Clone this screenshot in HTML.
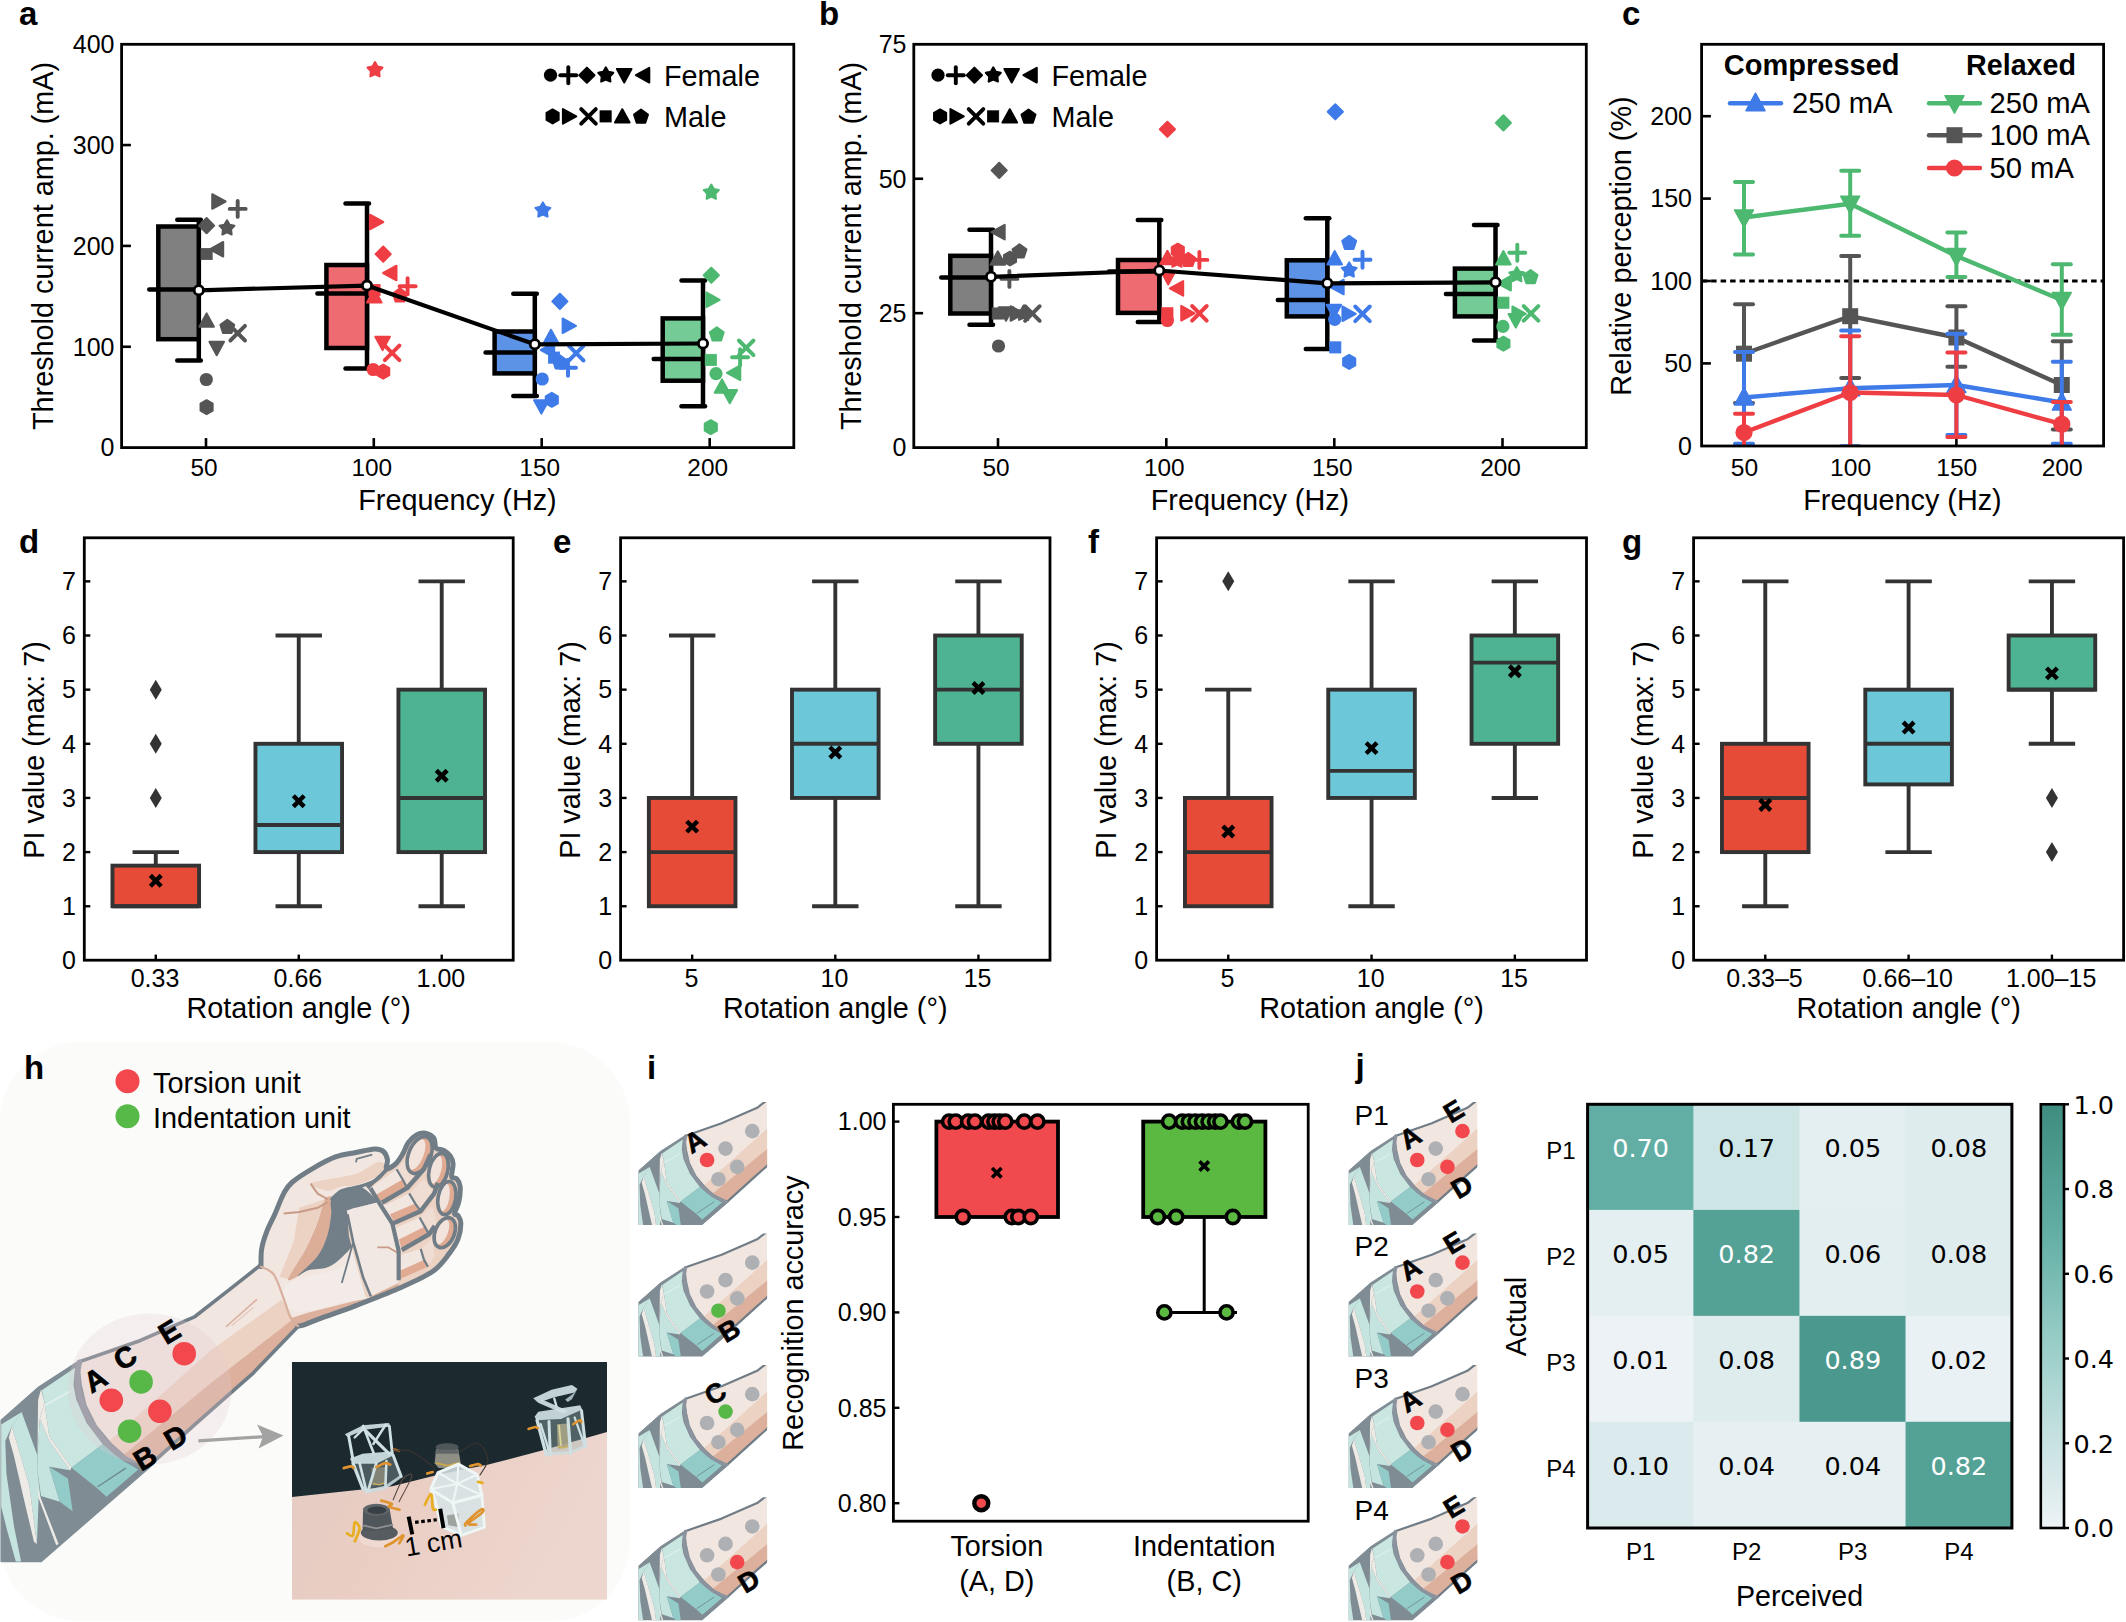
<!DOCTYPE html><html><head><meta charset="utf-8"><title>Figure</title><style>html,body{margin:0;padding:0;background:#fff}svg{display:block}</style></head><body><svg width="2126" height="1622" viewBox="0 0 2126 1622" font-family='"Liberation Sans", Arial, Helvetica, sans-serif'><defs><g id="armfore"><polygon points="77.54,1362.41 137.65,1341.53 195,1316.53 229.41,1289.69 261.53,1264.22 298.23,1326.16 252.35,1373.88 195,1424.35 146.82,1467.94 128.47,1479.41 118.34,1473.14 82.84,1443.55 63.61,1399.17" fill="#f2e6e1"/><polygon points="112.1,1438.5 210.7,1350.4 286.8,1295.9 298.23,1326.16 252.35,1373.88 195,1424.35 146.82,1467.94 128.47,1479.41 118.34,1473.14 94.67,1452.43" fill="#ecd2c3"/><polygon points="127.1,1451.9 210.7,1383.3 293.6,1318.8 298.23,1326.16 252.35,1373.88 195,1424.35 146.82,1467.94 128.47,1479.41 118.34,1473.14 109.47,1464.26" fill="#dcb09c"/><line x1="225.97" y1="1326.85" x2="256.94" y2="1299.32" stroke="#dbb3a3" stroke-width="1.6"/><line x1="231.7" y1="1325.71" x2="253.5" y2="1307.35" stroke="#e6c6b8" stroke-width="1.2"/><polyline points="77.54,1362.41 137.65,1341.53 195,1316.53 229.41,1289.69 261.53,1264.22" fill="none" stroke="#717d86" stroke-width="3.6" stroke-linejoin="round"/><polyline points="298.23,1326.16 252.35,1373.88 195,1424.35 146.82,1467.94" fill="none" stroke="#717d86" stroke-width="3.6" stroke-linejoin="round"/><polygon points="78.4,1361.45 38.76,1387.04 1.17,1420.42 1.17,1561.58 41,1561.58 149.41,1467.51 142.01,1465.74 125.74,1456.86 110.95,1443.55 96.15,1425.8 85.8,1405.09 81.07,1384.38" fill="#7f8c94" stroke="#7f8c94" stroke-width="1.5" stroke-linejoin="round"/><polygon points="1.17,1424.52 22.26,1411.63 11.72,1426.86 5.27,1440.92 6.44,1473.72 14.06,1526.44 21.09,1561.58 15.82,1561.58 7.03,1529.95 1.17,1506.52" fill="#c5e4df"/><polygon points="11.72,1426.86 21.67,1412.22 37.25,1454.98 37.25,1469.03 40.42,1497.15 38.66,1498.32 36.9,1544.01 29.29,1485.44 17.57,1445.6" fill="#c5e4df"/><polygon points="8.79,1437.4 11.72,1426.86 17.57,1445.6 29.29,1485.44 36.9,1544.01 33.97,1541.67 23.43,1497.15 14.06,1456.15" fill="#eeeae5"/><polygon points="38.07,1399.92 41,1389.37 44.52,1402.26 39.83,1418.66 37.49,1454.98" fill="#eeeae5"/><polygon points="39.83,1418.66 49.2,1440.92 70.29,1470.21 49.2,1466.69 59.75,1501.84 41,1495.98 37.25,1469.03 37.49,1454.98" fill="#c5e4df"/><polygon points="49.2,1466.69 67.95,1478.41 72.63,1511.21 59.75,1501.84" fill="#93cbc8"/><polygon points="37.25,1485.44 40.42,1497.15 58.58,1544.01 56.23,1545.18 38.66,1498.32" fill="#eeeae5"/><polygon points="44.52,1402.26 41.71,1390.31 75,1367.81 73.52,1384.38 76.18,1399.17 86.54,1422.84 102.81,1444.29 71.46,1467.86 49.2,1436.23" fill="#c9e6e1"/><polygon points="39.83,1418.66 44.52,1402.26 49.2,1436.23 71.46,1467.86 70.29,1470.21 49.2,1440.92" fill="#eeeae5"/><polygon points="71.46,1467.86 102.81,1444.29 120.56,1459.08 138.31,1469.44 106.51,1496.8 96.89,1487.93" fill="#93cbc8"/><line x1="97.63" y1="1486.75" x2="125.74" y2="1468.11" stroke="#6f8a90" stroke-width="1.4"/><line x1="45.1" y1="1405.19" x2="70.29" y2="1391.13" stroke="#e4f1ee" stroke-width="1.6"/><path d="M79.59 1362.19C79.19 1364.9 77.05 1372.3 77.22 1378.46C77.39 1384.63 78.33 1391.78 80.62 1399.17C82.91 1406.57 86.66 1415.44 90.98 1422.84C95.29 1430.24 100.96 1437.63 106.51 1443.55C112.06 1449.47 117.97 1454.35 124.26 1458.34C130.55 1462.34 140.9 1465.99 144.23 1467.51" fill="none" stroke="#8b949e" stroke-width="5.2" stroke-linejoin="round" stroke-linecap="round"/></g><g id="armfull"><use href="#armfore"/><path d="M260.97 1266.6C261.09 1263.64 260.73 1254.66 261.68 1248.87C262.62 1243.08 264.39 1237.77 266.64 1231.86C268.88 1225.95 272.31 1219.81 275.15 1213.43C277.98 1207.05 280.82 1198.78 283.65 1193.58C286.49 1188.38 287.2 1186.49 292.16 1182.23C297.12 1177.98 306.1 1172.31 313.43 1168.06C320.75 1163.8 329.02 1159.31 336.11 1156.71C343.2 1154.11 349.58 1153.76 355.96 1152.46C362.34 1151.16 369.9 1149.15 374.39 1148.92C378.88 1148.68 380.73 1149.27 382.9 1151.04C385.07 1152.81 386.85 1156.6 387.44 1159.55C388.03 1162.5 385.07 1168.06 386.45 1168.77C387.82 1169.47 392.94 1166.28 395.66 1163.8C398.38 1161.32 400.62 1157.42 402.75 1153.88C404.88 1150.33 406.06 1145.73 408.42 1142.54C410.79 1139.34 414.09 1136.27 416.93 1134.74C419.76 1133.2 422.6 1132.73 425.44 1133.32C428.27 1133.91 432.17 1135.8 433.94 1138.28C435.72 1140.76 434.42 1146.2 436.07 1148.21C437.72 1150.22 441.5 1149.03 443.87 1150.33C446.23 1151.63 448.71 1153.76 450.25 1156C451.78 1158.25 452.85 1160.38 453.08 1163.8C453.32 1167.23 451.08 1174.08 451.67 1176.56C452.26 1179.04 455.21 1177.04 456.63 1178.69C458.05 1180.34 459.82 1182.59 460.17 1186.49C460.53 1190.39 459.7 1197.59 458.76 1202.08C457.81 1206.57 454.62 1211.18 454.5 1213.43C454.38 1215.67 456.98 1213.9 458.05 1215.55C459.11 1217.21 460.88 1219.45 460.88 1223.35C460.88 1227.25 459.94 1233.99 458.05 1238.95C456.16 1243.91 453.79 1247.69 449.54 1253.13C445.29 1258.56 441.03 1265.65 432.53 1271.56C424.02 1277.47 411.26 1282.9 398.5 1288.57C385.74 1294.24 368.96 1300.62 355.96 1305.59C342.97 1310.55 329.5 1315.04 320.52 1318.35C311.54 1321.66 305.84 1324.16 302.08 1325.44C298.33 1326.71 298.66 1325.91 297.97 1326Z" fill="#f2e6e1"/><polygon points="297.97,1326 302.08,1325.44 320.52,1318.35 355.96,1305.59 398.5,1288.57 432.53,1271.56 449.54,1253.13 441.03,1254.54 424.02,1265.89 398.5,1278.65 370.14,1297.08 341.78,1304.17 307.76,1312.68 290.74,1318.35" fill="#dcb09c"/><path d="M285.07 1287.15C287.67 1283.85 289.8 1281.96 299.25 1278.65C308.7 1275.34 332.45 1272.27 341.78 1267.3C351.12 1262.34 351.71 1247.22 355.25 1248.87C358.8 1250.53 360.45 1269.31 363.05 1277.23C365.65 1285.15 374.39 1292.12 370.85 1296.37C367.3 1300.62 352.3 1300.27 341.78 1302.75C331.27 1305.23 316.26 1310.08 307.76 1311.26C299.25 1312.44 294.76 1311.97 290.74 1309.84C286.72 1307.71 284.6 1302.28 283.65 1298.5C282.71 1294.72 282.47 1290.46 285.07 1287.15Z" fill="#f3ebe7"/><polygon points="367.3,1187.91 387.15,1169.47 395.66,1163.8 408.42,1142.54 425.44,1133.32 436.07,1148.21 451.67,1176.56 460.17,1186.49 454.5,1213.43 460.88,1223.35 449.54,1253.13 432.53,1271.56 398.5,1288.57 398.5,1282.9 401.33,1251.71 395.66,1224.77 382.9,1201.38" fill="#ecd2c3"/><polygon points="370.39,1188.11 396.59,1169.25 407.06,1188.11 381.92,1202.78" fill="#f2e6e0"/><polygon points="375.63,1194.92 402.87,1179.21 407.06,1188.11 381.92,1202.78" fill="#e0ab92"/><polygon points="384.01,1205.93 409.16,1193.35 420.69,1211.17 392.39,1223.74" fill="#f2e6e0"/><polygon points="388.73,1214.83 417.02,1202.78 420.69,1211.17 392.39,1223.74" fill="#e0ab92"/><polygon points="395.54,1227.93 419.64,1217.45 429.07,1234.22 401.83,1249.94" fill="#f2e6e0"/><polygon points="398.89,1239.46 425.4,1226.36 429.07,1234.22 401.83,1249.94" fill="#e0ab92"/><polygon points="398.68,1255.18 420.69,1248.89 428.02,1266.7 399.73,1279.28" fill="#f2e6e0"/><polygon points="399.31,1270.9 423.83,1259.89 428.02,1266.7 399.73,1279.28" fill="#e0ab92"/><polygon points="396.59,1169.25 407.06,1157.72 423.83,1169.25 407.06,1188.11" fill="#efdcd2"/><polygon points="409.16,1193.35 423.83,1178.68 434.31,1193.35 420.69,1211.17" fill="#efdcd2"/><polygon points="419.64,1217.45 432.21,1205.93 437.45,1224.79 429.07,1234.22" fill="#efdcd2"/><polygon points="420.69,1248.89 432.21,1238.41 434.31,1256.23 428.02,1266.7" fill="#efdcd2"/><ellipse cx="419.64" cy="1155.1" rx="11" ry="19.39" fill="#e0ab92" transform="rotate(22 419.64 1155.1)"/><ellipse cx="416.71" cy="1154.48" rx="6.82" ry="16.28" fill="#f2e4dd" transform="rotate(22 416.71 1154.48)"/><ellipse cx="438.5" cy="1170.3" rx="9.22" ry="17.29" fill="#e0ab92" transform="rotate(14 438.5 1170.3)"/><ellipse cx="435.57" cy="1169.67" rx="5.72" ry="14.52" fill="#f2e4dd" transform="rotate(14 435.57 1169.67)"/><ellipse cx="446.88" cy="1198.07" rx="8.8" ry="16.77" fill="#e0ab92" transform="rotate(10 446.88 1198.07)"/><ellipse cx="443.95" cy="1197.44" rx="5.46" ry="14.08" fill="#f2e4dd" transform="rotate(10 443.95 1197.44)"/><ellipse cx="444.79" cy="1232.65" rx="9.64" ry="15.72" fill="#e0ab92" transform="rotate(22 444.79 1232.65)"/><ellipse cx="441.85" cy="1232.02" rx="5.98" ry="13.2" fill="#f2e4dd" transform="rotate(22 441.85 1232.02)"/><path d="M310.59 1183.65C310.59 1181.76 320.04 1181.05 327.61 1179.4C335.17 1177.74 347.69 1176.56 355.96 1173.73C364.23 1170.89 372.39 1163.57 377.23 1162.38C382.07 1161.2 385.26 1164.16 385.03 1166.64C384.79 1169.12 380.66 1174.2 375.81 1177.27C370.97 1180.34 361.63 1183.53 355.96 1185.07C350.29 1186.61 346.51 1185.54 341.78 1186.49C337.06 1187.43 332.8 1191.21 327.61 1190.74C322.41 1190.27 310.59 1185.54 310.59 1183.65Z" fill="#ecd2c3"/><path d="M324.77 1199.25C327.37 1195.23 332.21 1195.47 333.28 1197.83C334.34 1200.19 331.98 1207.28 331.15 1213.43C330.32 1219.57 330.44 1227.61 328.31 1234.69C326.19 1241.78 323.23 1249.23 318.39 1255.96C313.55 1262.7 304.33 1271.32 299.25 1275.1C294.17 1278.88 286.96 1282.78 287.91 1278.65C288.85 1274.51 299.96 1259.74 304.92 1250.29C309.88 1240.84 314.37 1230.44 317.68 1221.93C320.99 1213.43 322.17 1203.27 324.77 1199.25Z" fill="#dcae98"/><polygon points="299.25,1207.76 324.77,1199.25 317.68,1221.93 304.92,1250.29 287.91,1278.65 279.4,1277.23 293.58,1241.78" fill="#ecd2c3"/><path d="M331.86 1199.25C334.58 1195.11 342.61 1190.69 347.45 1188.61C352.3 1186.54 356.32 1185.12 360.92 1186.77C365.53 1188.43 372.27 1195.94 375.1 1198.54C377.94 1201.14 382.07 1200.55 377.94 1202.37C373.8 1204.19 355.37 1207.5 350.29 1209.46C345.21 1211.42 347.03 1208.75 347.45 1214.14C347.88 1219.52 353.55 1234.81 352.84 1241.78C352.13 1248.75 347.41 1251.71 343.2 1255.96C339 1260.22 333.39 1264.94 327.61 1267.3C321.82 1269.67 313.43 1268.72 308.46 1270.14C303.5 1271.56 296.29 1278.17 297.83 1275.81C299.37 1273.45 312.72 1262.81 317.68 1255.96C322.64 1249.11 325.36 1241.78 327.61 1234.69C329.85 1227.61 330.44 1219.33 331.15 1213.43C331.86 1207.52 329.14 1203.38 331.86 1199.25Z" fill="#727f88"/><polygon points="347.45,1214.14 350.29,1209.46 377.94,1202.37 382.9,1201.38 395.66,1224.77 401.33,1251.71 398.5,1282.9 370.85,1296.37 363.05,1277.23 355.25,1248.87" fill="#f2e8e3"/><polygon points="347.45,1214.14 355.25,1248.87 363.05,1277.23 370.85,1296.37 365.89,1297.79 355.96,1263.05 348.87,1236.11" fill="#ecd2c3"/><polyline points="347.45,1214.14 353.13,1241.78 363.05,1277.23 370.85,1296.37" fill="none" stroke="#717d86" stroke-width="2.6" stroke-linejoin="round"/><polyline points="352.84,1243.2 347.45,1263.05 341.78,1282.9" fill="none" stroke="#717d86" stroke-width="1.8" stroke-linejoin="round"/><polyline points="283.65,1213.43 299.25,1212.01 317.68,1207.76 327.61,1202.08" fill="none" stroke="#c99a86" stroke-width="2" stroke-linejoin="round"/><polyline points="310.59,1183.65 317.68,1193.58 327.61,1199.25" fill="none" stroke="#c99a86" stroke-width="2" stroke-linejoin="round"/><polyline points="377.23,1247.45 388.57,1247.45 397.08,1252.42" fill="none" stroke="#c99a86" stroke-width="1.8" stroke-linejoin="round"/><polyline points="367.3,1187.91 387.15,1169.47" fill="none" stroke="#717d86" stroke-width="3.6" stroke-linejoin="round"/><polyline points="381.92,1202.78 407.06,1188.11 423.83,1169.25 430.64,1154.58" fill="none" stroke="#717d86" stroke-width="4.6" stroke-linejoin="round"/><polyline points="392.39,1223.74 420.69,1211.17 434.31,1193.35 437.98,1182.87" fill="none" stroke="#717d86" stroke-width="4.6" stroke-linejoin="round"/><polyline points="401.83,1249.94 429.07,1234.22 434.83,1225.84" fill="none" stroke="#717d86" stroke-width="4.6" stroke-linejoin="round"/><polyline points="370.39,1188.11 379.82,1203.83 392.39,1223.74 398.68,1250.99 398.68,1280.33" fill="none" stroke="#717d86" stroke-width="4.2" stroke-linejoin="round"/><ellipse cx="419.64" cy="1155.1" rx="11" ry="19.39" fill="none" stroke="#717d86" stroke-width="3.6" transform="rotate(22 419.64 1155.1)"/><ellipse cx="438.5" cy="1170.3" rx="9.22" ry="17.29" fill="none" stroke="#717d86" stroke-width="3.6" transform="rotate(14 438.5 1170.3)"/><ellipse cx="446.88" cy="1198.07" rx="8.8" ry="16.77" fill="none" stroke="#717d86" stroke-width="3.6" transform="rotate(10 446.88 1198.07)"/><ellipse cx="444.79" cy="1232.65" rx="9.64" ry="15.72" fill="none" stroke="#717d86" stroke-width="3.6" transform="rotate(22 444.79 1232.65)"/><polyline points="396.59,1169.25 402.87,1179.73 407.06,1188.11" fill="none" stroke="#717d86" stroke-width="2.2" stroke-linejoin="round"/><polyline points="409.16,1193.35 415.45,1203.83 420.69,1211.17" fill="none" stroke="#717d86" stroke-width="2.2" stroke-linejoin="round"/><polyline points="419.64,1217.45 424.88,1226.88 429.07,1234.22" fill="none" stroke="#717d86" stroke-width="2.2" stroke-linejoin="round"/><polyline points="420.69,1248.89 423.83,1259.37 428.02,1266.7" fill="none" stroke="#717d86" stroke-width="2.2" stroke-linejoin="round"/><polyline points="355.96,1162.38 356.67,1158.84 372.27,1154.59" fill="none" stroke="#717d86" stroke-width="1.8" stroke-linejoin="round"/><path d="M260.97 1266.6C261.09 1263.64 260.73 1254.66 261.68 1248.87C262.62 1243.08 264.39 1237.77 266.64 1231.86C268.88 1225.95 272.31 1219.81 275.15 1213.43C277.98 1207.05 280.82 1198.78 283.65 1193.58C286.49 1188.38 287.2 1186.49 292.16 1182.23C297.12 1177.98 306.1 1172.31 313.43 1168.06C320.75 1163.8 329.02 1159.31 336.11 1156.71C343.2 1154.11 349.58 1153.76 355.96 1152.46C362.34 1151.16 369.9 1149.15 374.39 1148.92C378.88 1148.68 380.73 1149.27 382.9 1151.04C385.07 1152.81 386.85 1156.6 387.44 1159.55C388.03 1162.5 385.07 1168.06 386.45 1168.77C387.82 1169.47 392.94 1166.28 395.66 1163.8C398.38 1161.32 400.62 1157.42 402.75 1153.88C404.88 1150.33 406.06 1145.73 408.42 1142.54C410.79 1139.34 414.09 1136.27 416.93 1134.74C419.76 1133.2 422.6 1132.73 425.44 1133.32C428.27 1133.91 432.17 1135.8 433.94 1138.28C435.72 1140.76 434.42 1146.2 436.07 1148.21C437.72 1150.22 441.5 1149.03 443.87 1150.33C446.23 1151.63 448.71 1153.76 450.25 1156C451.78 1158.25 452.85 1160.38 453.08 1163.8C453.32 1167.23 451.08 1174.08 451.67 1176.56C452.26 1179.04 455.21 1177.04 456.63 1178.69C458.05 1180.34 459.82 1182.59 460.17 1186.49C460.53 1190.39 459.7 1197.59 458.76 1202.08C457.81 1206.57 454.62 1211.18 454.5 1213.43C454.38 1215.67 456.98 1213.9 458.05 1215.55C459.11 1217.21 460.88 1219.45 460.88 1223.35C460.88 1227.25 459.94 1233.99 458.05 1238.95C456.16 1243.91 453.79 1247.69 449.54 1253.13C445.29 1258.56 441.03 1265.65 432.53 1271.56C424.02 1277.47 411.26 1282.9 398.5 1288.57C385.74 1294.24 368.96 1300.62 355.96 1305.59C342.97 1310.55 329.5 1315.04 320.52 1318.35C311.54 1321.66 305.84 1324.16 302.08 1325.44C298.33 1326.71 298.66 1325.91 297.97 1326" fill="none" stroke="#717d86" stroke-width="5" stroke-linejoin="round" stroke-linecap="round"/><path d="M331.86 1199.25C333.51 1197.83 337.06 1192.87 341.78 1190.74C346.51 1188.61 354.31 1188.38 360.22 1186.49C366.12 1184.6 372.74 1182.47 377.23 1179.4C381.72 1176.33 385.5 1169.95 387.15 1168.06" fill="none" stroke="#717d86" stroke-width="3.4" stroke-linejoin="round" stroke-linecap="round"/><path d="M260.97 1266.6C263.09 1267.9 269.95 1269.08 273.73 1274.39C277.51 1279.71 280.82 1291.17 283.65 1298.5C286.49 1305.82 288.35 1313.76 290.74 1318.35C293.13 1322.93 296.77 1324.73 297.97 1326" fill="none" stroke="#d9b09d" stroke-width="2.2" stroke-linejoin="round" stroke-linecap="round"/></g><linearGradient id="skinph" x1="0" y1="0" x2="1" y2="0.4"><stop offset="0" stop-color="#e2cac1"/><stop offset="0.5" stop-color="#eacec4"/><stop offset="1" stop-color="#edd6ce"/></linearGradient><clipPath id="clipph"><rect x="292" y="1362" width="315" height="237.8"/></clipPath><filter id="soft" x="-10%" y="-10%" width="120%" height="120%"><feGaussianBlur stdDeviation="0.7"/></filter><linearGradient id="cbar" x1="0" y1="1" x2="0" y2="0"><stop offset="0" stop-color="#eef3f6"/><stop offset="0.05" stop-color="#e4eff1"/><stop offset="0.1" stop-color="#dbeaec"/><stop offset="0.15" stop-color="#d2e6e7"/><stop offset="0.2" stop-color="#c8e2e2"/><stop offset="0.25" stop-color="#bededc"/><stop offset="0.3" stop-color="#b4d9d7"/><stop offset="0.35" stop-color="#aad5d1"/><stop offset="0.4" stop-color="#a0d0cc"/><stop offset="0.45" stop-color="#96ccc6"/><stop offset="0.5" stop-color="#8cc6bf"/><stop offset="0.55" stop-color="#81c0b9"/><stop offset="0.6" stop-color="#77bab2"/><stop offset="0.65" stop-color="#6cb4ac"/><stop offset="0.7" stop-color="#62aea5"/><stop offset="0.75" stop-color="#5ca89f"/><stop offset="0.8" stop-color="#56a399"/><stop offset="0.85" stop-color="#509e92"/><stop offset="0.9" stop-color="#4a988c"/><stop offset="0.95" stop-color="#449286"/><stop offset="1" stop-color="#3e8d80"/></linearGradient></defs><rect x="0" y="1042" width="630" height="579" fill="#fbfcfa" rx="80" ry="80"/><text x="24" y="1079" font-size="33" text-anchor="start" font-weight="bold">h</text><circle cx="127.5" cy="1081.2" r="12" fill="#f2474d"/><circle cx="127.5" cy="1116.2" r="12" fill="#57b947"/><text x="153" y="1092.5" font-size="28.9" text-anchor="start">Torsion unit</text><text x="153" y="1127.5" font-size="28.9" text-anchor="start">Indentation unit</text><use href="#armfull"/><ellipse cx="149.7" cy="1389" rx="82" ry="75.5" fill="#e4c8cf" fill-opacity="0.28"/><circle cx="111.3" cy="1400.3" r="11.8" fill="#f2474d"/><circle cx="141.1" cy="1381.9" r="11.8" fill="#57b747"/><circle cx="184.2" cy="1353.7" r="11.8" fill="#f2474d"/><circle cx="159.9" cy="1411.3" r="11.8" fill="#f2474d"/><circle cx="129.6" cy="1431.2" r="11.8" fill="#57b747"/><text x="95.2" y="1389.9" font-size="29" text-anchor="middle" font-weight="bold" stroke="#000" stroke-width="0.7" transform="rotate(-31 95.2 1379.6)">A</text><text x="125" y="1367.7" font-size="29" text-anchor="middle" font-weight="bold" stroke="#000" stroke-width="0.7" transform="rotate(-31 125 1357.4)">C</text><text x="169.3" y="1341.7" font-size="29" text-anchor="middle" font-weight="bold" stroke="#000" stroke-width="0.7" transform="rotate(-31 169.3 1331.4)">E</text><text x="175.5" y="1447.3" font-size="29" text-anchor="middle" font-weight="bold" stroke="#000" stroke-width="0.7" transform="rotate(-31 175.5 1437)">D</text><text x="145" y="1467.9" font-size="29" text-anchor="middle" font-weight="bold" stroke="#000" stroke-width="0.7" transform="rotate(-31 145 1457.6)">B</text><line x1="198.4" y1="1440.9" x2="268" y2="1436.4" stroke="#a3a3a3" stroke-width="3.2"/><polygon points="283.5,1435.4 257,1424.6 263,1436.6 258.6,1448.5" fill="#a3a3a3"/><g clip-path="url(#clipph)"><rect x="292" y="1362" width="315" height="237.8" fill="url(#skinph)"/><polygon points="289.62,1359.62 610.23,1359.62 610.23,1430.96 542.9,1450.19 488.4,1464.62 440.31,1474.24 392.22,1486.26 289.62,1497.16" fill="#1c2a2f"/><g filter="url(#soft)"><polygon points="436.07,1449.33 458.27,1449.33 460.74,1463.15 457.28,1468.08 438.53,1468.08 434.59,1463.15" fill="#8f8f86"/><ellipse cx="447.22" cy="1447.16" rx="11.5" ry="4" fill="#50565a"/><polygon points="435.77,1449.83 458.27,1449.83 458.86,1453.77 435.57,1453.77" fill="#62676a"/><polyline points="436.07,1463.15 447.41,1465.61 459.75,1462.65" fill="none" stroke="#c9a94a" stroke-width="1.6" stroke-linejoin="round"/><polygon points="350.23,1459.2 362.56,1453.77 391.17,1451.8 401.04,1476.96 385.25,1489.29 367.49,1493.24 362.07,1488.8" fill="#9fb3b7" opacity="0.35"/><polygon points="371.44,1468.08 385.25,1467.09 386.24,1483.87 372.43,1485.84" fill="#8b8b7c" opacity="0.85"/><polyline points="372.43,1483.37 379.33,1484.85 386.04,1482.39" fill="none" stroke="#cdb25a" stroke-width="1.4" stroke-linejoin="round"/><line x1="348.75" y1="1436.51" x2="352.89" y2="1459.2" stroke="#cfe0e3" stroke-width="3" stroke-linecap="round"/><line x1="364.53" y1="1429.6" x2="389.2" y2="1453.77" stroke="#cfe0e3" stroke-width="3.2" stroke-linecap="round"/><line x1="363.05" y1="1425.85" x2="373.91" y2="1453.77" stroke="#cfe0e3" stroke-width="2.6" stroke-linecap="round"/><line x1="385.75" y1="1424.67" x2="373.41" y2="1443.91" stroke="#cfe0e3" stroke-width="2.6" stroke-linecap="round"/><line x1="389.4" y1="1426.44" x2="392.36" y2="1453.77" stroke="#cfe0e3" stroke-width="2.8" stroke-linecap="round"/><line x1="352.89" y1="1463.15" x2="363.05" y2="1489.29" stroke="#cfe0e3" stroke-width="3.2" stroke-linecap="round"/><line x1="359.6" y1="1463.15" x2="366.7" y2="1492.25" stroke="#cfe0e3" stroke-width="2.6" stroke-linecap="round"/><line x1="376.37" y1="1463.15" x2="367.99" y2="1491.27" stroke="#cfe0e3" stroke-width="2.8" stroke-linecap="round"/><line x1="386.44" y1="1461.17" x2="385.45" y2="1485.84" stroke="#cfe0e3" stroke-width="2.6" stroke-linecap="round"/><line x1="393.15" y1="1455.25" x2="401.24" y2="1476.47" stroke="#cfe0e3" stroke-width="3" stroke-linecap="round"/><line x1="354.67" y1="1437.49" x2="362.56" y2="1429.6" stroke="#cfe0e3" stroke-width="2.4" stroke-linecap="round"/><polygon points="344.8,1434.24 363.05,1425.16 388.9,1422.89 390.58,1426.44 364.73,1429.8 347.56,1437.1" fill="#cfe0e3" opacity="0.92"/><polygon points="350.03,1458.41 362.56,1453.77 390.98,1451.5 393.54,1455.25 376.37,1463.64 352.5,1463.64" fill="#cfe0e3" opacity="0.92"/><polygon points="362.07,1488.31 367.49,1493.24 385.25,1489.29 401.24,1477.95 399.66,1475.48 384.86,1485.84 367.89,1489.79 363.55,1486.04" fill="#cfe0e3" opacity="0.8"/><polygon points="536.62,1420.19 561.04,1418.83 582.06,1409.34 585.59,1446.64 570.53,1453.76 546.12,1455.11" fill="#9fb3b7" opacity="0.4"/><polygon points="556.97,1424.26 567.82,1423.58 568.5,1447.31 557.65,1448.67" fill="#a7a588" opacity="0.9"/><polyline points="557.65,1446.64 563.07,1447.99 568.36,1445.96" fill="none" stroke="#cdb25a" stroke-width="1.4" stroke-linejoin="round"/><polyline points="559,1424.93 561.04,1445.96" fill="none" stroke="#dcd9a0" stroke-width="1.6" stroke-linejoin="round"/><line x1="536.96" y1="1420.19" x2="546.25" y2="1454.77" stroke="#cfe0e3" stroke-width="3.2" stroke-linecap="round"/><line x1="548.97" y1="1421.54" x2="550.32" y2="1454.77" stroke="#cfe0e3" stroke-width="3" stroke-linecap="round"/><line x1="567.96" y1="1418.97" x2="570.67" y2="1453.55" stroke="#cfe0e3" stroke-width="3.2" stroke-linecap="round"/><line x1="581.52" y1="1410.69" x2="585.59" y2="1446.64" stroke="#cfe0e3" stroke-width="3" stroke-linecap="round"/><line x1="540.69" y1="1424.26" x2="550.32" y2="1454.77" stroke="#cfe0e3" stroke-width="2.4" stroke-linecap="round"/><line x1="574.6" y1="1417.47" x2="584.77" y2="1445.96" stroke="#cfe0e3" stroke-width="2.2" stroke-linecap="round"/><line x1="554.26" y1="1398.48" x2="556.97" y2="1407.98" stroke="#cfe0e3" stroke-width="2.4" stroke-linecap="round"/><polygon points="546.25,1452.4 570.67,1451.04 585.59,1444.26 586,1446.98 570.87,1454.1 546.39,1455.45" fill="#cfe0e3" opacity="0.75"/><polygon points="533.23,1398.15 551.54,1389.67 571.89,1384.92 577.45,1388.65 574.6,1392.38 554.26,1397.13 538.11,1402.69" fill="#cfe0e3" opacity="0.92"/><polygon points="538.11,1402.69 542.73,1399.84 567.82,1410.69 563.61,1413.74" fill="#cfe0e3" opacity="0.92"/><polygon points="534.59,1416.8 538.32,1411.71 580.16,1405.27 582.2,1409.47 561.04,1418.97 536.62,1420.32" fill="#cfe0e3" opacity="0.92"/><polygon points="574.6,1392.38 577.45,1388.65 571.89,1399.16 567.82,1401.88 565.11,1399.84" fill="#b9cdd1" opacity="0.85"/><polygon points="430.64,1489.29 438.04,1472.52 458.27,1464.13 477.02,1474.49 481.95,1495.21 484.42,1527.28 461.23,1535.37 441.49,1526.3 434.59,1498.67" fill="#d6e4e6" opacity="0.86"/><polygon points="446.92,1515.44 458.27,1513.47 459.26,1527.28 448.4,1525.31" fill="#8a8f88" opacity="0.75"/><polyline points="430.64,1489.29 438.04,1472.52 458.27,1464.13 477.02,1474.49 481.95,1495.21 452.84,1502.81 430.64,1489.29" fill="none" stroke="#eff6f6" stroke-width="3" stroke-linejoin="round"/><polyline points="452.84,1502.81 461.23,1535.18" fill="none" stroke="#eff6f6" stroke-width="3" stroke-linejoin="round"/><polyline points="481.95,1495.21 484.42,1527.28 461.23,1535.37 441.49,1526.3 434.59,1498.67 430.64,1489.29" fill="none" stroke="#eff6f6" stroke-width="2.8" stroke-linejoin="round"/><polyline points="438.04,1472.52 457.28,1483.87 477.02,1474.49" fill="none" stroke="#eff6f6" stroke-width="2.2" stroke-linejoin="round"/><polyline points="457.28,1483.87 452.84,1502.81" fill="none" stroke="#eff6f6" stroke-width="2.2" stroke-linejoin="round"/><polyline points="430.64,1489.29 457.28,1483.87 481.95,1495.21" fill="none" stroke="#eff6f6" stroke-width="2" stroke-linejoin="round"/><polyline points="458.27,1464.13 457.28,1483.87" fill="none" stroke="#eff6f6" stroke-width="2" stroke-linejoin="round"/><ellipse cx="379.33" cy="1537.15" rx="21" ry="10.5" fill="#f0dcd5" opacity="0.75"/><ellipse cx="379.33" cy="1532.71" rx="18.5" ry="7.8" fill="#575c5f"/><polygon points="363.05,1510.51 389.69,1509.52 393.15,1529.26 362.56,1531.23" fill="#50565b"/><ellipse cx="376.37" cy="1509.72" rx="13.4" ry="6" fill="#5f666b"/><ellipse cx="376.87" cy="1510.31" rx="9.4" ry="3.8" fill="#393f44"/><polyline points="363.05,1525.31 376.37,1528.27 393.15,1524.52" fill="none" stroke="#8e9092" stroke-width="1.8" stroke-linejoin="round"/></g><path d="M381.31 1500.64C383.03 1501.17 390.38 1502.78 391.67 1503.8C392.95 1504.82 387.69 1505.77 389 1506.76C390.32 1507.75 397.8 1509.23 399.56 1509.72" fill="none" stroke="#df9430" stroke-width="2.7" stroke-linejoin="round" stroke-linecap="round"/><path d="M346.97 1533.4C347.96 1533.73 351.61 1537.21 352.89 1535.37C354.17 1533.53 353.55 1523.5 354.67 1522.35C355.79 1521.2 359.57 1525.31 359.6 1528.47C359.63 1531.62 355.65 1539.15 354.86 1541.29" fill="none" stroke="#e8ae22" stroke-width="2.7" stroke-linejoin="round" stroke-linecap="round"/><path d="M385.25 1546.23C386.57 1545.57 390.15 1544.09 393.15 1542.28C396.14 1540.47 402.19 1535.21 403.21 1535.37C404.23 1535.54 399.92 1541.95 399.26 1543.27" fill="none" stroke="#df9430" stroke-width="2.7" stroke-linejoin="round" stroke-linecap="round"/><path d="M424.92 1504.79C425.54 1503.47 427.55 1498.54 428.67 1496.89C429.79 1495.25 430.94 1492.98 431.63 1494.92C432.32 1496.86 432.12 1506.07 432.81 1508.53C433.5 1511 435.28 1509.52 435.77 1509.72" fill="none" stroke="#e8ae22" stroke-width="2.7" stroke-linejoin="round" stroke-linecap="round"/><path d="M465.37 1525.51C465.54 1525.01 463.76 1525.18 466.36 1522.55C468.96 1519.91 478.33 1511.36 480.96 1509.72C483.59 1508.07 484.25 1510.38 482.15 1512.68C480.04 1514.98 469.32 1521.56 468.33 1523.53C467.35 1525.51 474.91 1524.35 476.23 1524.52" fill="none" stroke="#df9430" stroke-width="2.7" stroke-linejoin="round" stroke-linecap="round"/><path d="M343.81 1468.08C345.05 1467.78 349.57 1466.3 351.21 1466.3C352.86 1466.3 353.27 1467.78 353.68 1468.08" fill="none" stroke="#df9430" stroke-width="2.7" stroke-linejoin="round" stroke-linecap="round"/><path d="M376.37 1467.09C377.85 1466.44 382.95 1463.56 385.25 1463.15C387.56 1462.74 389.37 1464.38 390.19 1464.63" fill="none" stroke="#df9430" stroke-width="2.7" stroke-linejoin="round" stroke-linecap="round"/><path d="M394.13 1449.33C394.96 1449.58 398.25 1450.57 399.07 1450.81" fill="none" stroke="#8a5a2a" stroke-width="2.7" stroke-linejoin="round" stroke-linecap="round"/><path d="M427.19 1473.51C428.09 1473.26 431.71 1472.27 432.61 1472.03" fill="none" stroke="#df9430" stroke-width="2.7" stroke-linejoin="round" stroke-linecap="round"/><path d="M470.11 1466.11C471.42 1465.78 476.19 1464.22 478 1464.13C479.81 1464.05 480.47 1465.37 480.96 1465.61" fill="none" stroke="#df9430" stroke-width="2.7" stroke-linejoin="round" stroke-linecap="round"/><path d="M478 1481.89C478.74 1482.06 481.7 1482.72 482.44 1482.88" fill="none" stroke="#e8ae22" stroke-width="2.7" stroke-linejoin="round" stroke-linecap="round"/><path d="M528.48 1429C529.61 1428.66 533.68 1427.08 535.27 1426.97C536.85 1426.86 537.53 1428.1 537.98 1428.32" fill="none" stroke="#df9430" stroke-width="2.5" stroke-linejoin="round" stroke-linecap="round"/><path d="M573.25 1424.26C574.38 1423.58 578.67 1420.53 580.03 1420.19C581.38 1419.85 581.16 1421.88 581.38 1422.22" fill="none" stroke="#df9430" stroke-width="2.5" stroke-linejoin="round" stroke-linecap="round"/><path d="M398.08 1450.32C400.22 1450.49 405.81 1449.17 410.91 1451.31C416.01 1453.45 424.72 1460.19 428.67 1463.15C432.61 1466.11 433.6 1468.08 434.59 1469.07" fill="none" stroke="#3a3330" stroke-width="1.1" stroke-linejoin="round" stroke-linecap="round"/><path d="M460.24 1451.31C463.2 1449.99 473.4 1442.1 478 1443.41C482.61 1444.73 487.54 1453.94 487.87 1459.2C488.2 1464.46 481.29 1472.36 479.98 1474.99" fill="none" stroke="#3a3330" stroke-width="1.1" stroke-linejoin="round" stroke-linecap="round"/><path d="M393.15 1499.65C394.79 1496.2 399.89 1482.88 403.01 1478.93C406.14 1474.99 412.55 1472.19 411.89 1475.97C411.24 1479.76 401.21 1497.35 399.07 1501.63" fill="none" stroke="#5a4a45" stroke-width="1.1" stroke-linejoin="round" stroke-linecap="round"/></g><line x1="408.64" y1="1516.63" x2="412.29" y2="1534.39" stroke="#000" stroke-width="4"/><line x1="440.21" y1="1508.73" x2="443.47" y2="1528.07" stroke="#000" stroke-width="4"/><line x1="415.05" y1="1522.35" x2="436.76" y2="1519.78" stroke="#000" stroke-width="3.2" stroke-dasharray="3.6 2.6"/><text x="406.47" y="1556.39" font-size="26.6" text-anchor="start" transform="rotate(-9.5 406.47 1556.39)">1 cm</text><text x="19" y="25" font-size="33" text-anchor="start" font-weight="bold">a</text><text x="114.5" y="456.4" font-size="25" text-anchor="end">0</text><line x1="121.6" y1="346.75" x2="130.9" y2="346.75" stroke="#000" stroke-width="2.6"/><text x="114.5" y="355.55" font-size="25" text-anchor="end">100</text><line x1="121.6" y1="245.9" x2="130.9" y2="245.9" stroke="#000" stroke-width="2.6"/><text x="114.5" y="254.7" font-size="25" text-anchor="end">200</text><line x1="121.6" y1="145.05" x2="130.9" y2="145.05" stroke="#000" stroke-width="2.6"/><text x="114.5" y="153.85" font-size="25" text-anchor="end">300</text><text x="114.5" y="53" font-size="25" text-anchor="end">400</text><line x1="206" y1="447.6" x2="206" y2="438.1" stroke="#000" stroke-width="2.6"/><text x="204" y="476" font-size="24.4" text-anchor="middle">50</text><line x1="373.8" y1="447.6" x2="373.8" y2="438.1" stroke="#000" stroke-width="2.6"/><text x="371.8" y="476" font-size="24.4" text-anchor="middle">100</text><line x1="541.7" y1="447.6" x2="541.7" y2="438.1" stroke="#000" stroke-width="2.6"/><text x="539.7" y="476" font-size="24.4" text-anchor="middle">150</text><line x1="709.7" y1="447.6" x2="709.7" y2="438.1" stroke="#000" stroke-width="2.6"/><text x="707.7" y="476" font-size="24.4" text-anchor="middle">200</text><text x="457.5" y="510" font-size="28.8" text-anchor="middle">Frequency (Hz)</text><text x="52.5" y="246" font-size="28.8" text-anchor="middle" transform="rotate(-90 52.5 246)">Threshold current amp. (mA)</text><circle cx="550.5" cy="75.2" r="6.6" fill="#000"/><line x1="560.3" y1="75.2" x2="576.3" y2="75.2" stroke="#000" stroke-width="3.9" stroke-linecap="round"/><line x1="568.3" y1="67.2" x2="568.3" y2="83.2" stroke="#000" stroke-width="3.9" stroke-linecap="round"/><polygon points="586.9,67.6 594.5,75.2 586.9,82.8 579.3,75.2" fill="#000" stroke="#000" stroke-width="2" stroke-linejoin="round"/><polygon points="605.8,67.3 608.33,71.72 613.31,72.76 609.89,76.53 610.44,81.59 605.8,79.5 601.16,81.59 601.71,76.53 598.29,72.76 603.27,71.72" fill="#000" stroke="#000" stroke-width="2" stroke-linejoin="round"/><polygon points="616.9,69 631.5,69 624.2,82.4" fill="#000" stroke="#000" stroke-width="2" stroke-linejoin="round"/><polygon points="649.3,67.9 649.3,82.5 635.9,75.2" fill="#000" stroke="#000" stroke-width="2" stroke-linejoin="round"/><polygon points="552.6,109.4 558.66,112.9 558.66,119.9 552.6,123.4 546.54,119.9 546.54,112.9" fill="#000" stroke="#000" stroke-width="2" stroke-linejoin="round"/><polygon points="562.9,109.1 562.9,123.7 576.3,116.4" fill="#000" stroke="#000" stroke-width="2" stroke-linejoin="round"/><line x1="581.2" y1="109.1" x2="595.8" y2="123.7" stroke="#000" stroke-width="3.9" stroke-linecap="round"/><line x1="581.2" y1="123.7" x2="595.8" y2="109.1" stroke="#000" stroke-width="3.9" stroke-linecap="round"/><rect x="600" y="110.8" width="11.2" height="11.2" fill="#000" stroke="#000" stroke-width="0.8"/><polygon points="615,122.6 629.6,122.6 622.3,109.2" fill="#000" stroke="#000" stroke-width="2" stroke-linejoin="round"/><polygon points="641,109.6 647.94,114.64 645.29,122.81 636.71,122.81 634.06,114.64" fill="#000" stroke="#000" stroke-width="2" stroke-linejoin="round"/><text x="664" y="85.6" font-size="28.8" text-anchor="start">Female</text><text x="664" y="126.8" font-size="28.8" text-anchor="start">Male</text><line x1="198.8" y1="219.7" x2="198.8" y2="360.5" stroke="#000" stroke-width="4.5"/><line x1="177.3" y1="219.7" x2="200.8" y2="219.7" stroke="#000" stroke-width="4.5" stroke-linecap="round"/><line x1="177.3" y1="360.5" x2="200.8" y2="360.5" stroke="#000" stroke-width="4.5" stroke-linecap="round"/><rect x="158.3" y="226.5" width="40.5" height="112.7" fill="#808080" stroke="#000" stroke-width="4.5"/><line x1="149.3" y1="289.5" x2="198.8" y2="289.5" stroke="#000" stroke-width="4.5" stroke-linecap="round"/><line x1="367" y1="203.5" x2="367" y2="368.4" stroke="#000" stroke-width="4.5"/><line x1="345.5" y1="203.5" x2="369" y2="203.5" stroke="#000" stroke-width="4.5" stroke-linecap="round"/><line x1="345.5" y1="368.4" x2="369" y2="368.4" stroke="#000" stroke-width="4.5" stroke-linecap="round"/><rect x="326.4" y="265" width="40.6" height="83" fill="#ee6b72" stroke="#000" stroke-width="4.5"/><line x1="317.4" y1="293.6" x2="367" y2="293.6" stroke="#000" stroke-width="4.5" stroke-linecap="round"/><line x1="534.8" y1="293.7" x2="534.8" y2="396" stroke="#000" stroke-width="4.5"/><line x1="513.3" y1="293.7" x2="536.8" y2="293.7" stroke="#000" stroke-width="4.5" stroke-linecap="round"/><line x1="513.3" y1="396" x2="536.8" y2="396" stroke="#000" stroke-width="4.5" stroke-linecap="round"/><rect x="494.6" y="331.5" width="40.2" height="41.9" fill="#5c93e6" stroke="#000" stroke-width="4.5"/><line x1="485.6" y1="352.4" x2="534.8" y2="352.4" stroke="#000" stroke-width="4.5" stroke-linecap="round"/><line x1="703" y1="280.5" x2="703" y2="406.2" stroke="#000" stroke-width="4.5"/><line x1="681.5" y1="280.5" x2="705" y2="280.5" stroke="#000" stroke-width="4.5" stroke-linecap="round"/><line x1="681.5" y1="406.2" x2="705" y2="406.2" stroke="#000" stroke-width="4.5" stroke-linecap="round"/><rect x="662.7" y="318.4" width="40.3" height="62.3" fill="#74cb96" stroke="#000" stroke-width="4.5"/><line x1="653.7" y1="359" x2="703" y2="359" stroke="#000" stroke-width="4.5" stroke-linecap="round"/><polygon points="212.2,194.2 212.2,208.8 225.6,201.5" fill="#555555" stroke="#555555" stroke-width="2" stroke-linejoin="round"/><line x1="229.7" y1="208.9" x2="245.7" y2="208.9" stroke="#555555" stroke-width="3.9" stroke-linecap="round"/><line x1="237.7" y1="200.9" x2="237.7" y2="216.9" stroke="#555555" stroke-width="3.9" stroke-linecap="round"/><polygon points="206.6,218 214.2,225.6 206.6,233.2 199,225.6" fill="#555555" stroke="#555555" stroke-width="2" stroke-linejoin="round"/><polygon points="227,220.2 229.53,224.62 234.51,225.66 231.09,229.43 231.64,234.49 227,232.4 222.36,234.49 222.91,229.43 219.49,225.66 224.47,224.62" fill="#555555" stroke="#555555" stroke-width="2" stroke-linejoin="round"/><polygon points="223.2,242 223.2,256.6 209.8,249.3" fill="#555555" stroke="#555555" stroke-width="2" stroke-linejoin="round"/><rect x="201" y="248.4" width="11.2" height="11.2" fill="#555555" stroke="#555555" stroke-width="0.8"/><polygon points="199.3,326.8 213.9,326.8 206.6,313.4" fill="#555555" stroke="#555555" stroke-width="2" stroke-linejoin="round"/><polygon points="227.3,319.7 234.24,324.74 231.59,332.91 223.01,332.91 220.36,324.74" fill="#555555" stroke="#555555" stroke-width="2" stroke-linejoin="round"/><line x1="230.4" y1="325.9" x2="245" y2="340.5" stroke="#555555" stroke-width="3.9" stroke-linecap="round"/><line x1="230.4" y1="340.5" x2="245" y2="325.9" stroke="#555555" stroke-width="3.9" stroke-linecap="round"/><polygon points="209.4,341.8 224,341.8 216.7,355.2" fill="#555555" stroke="#555555" stroke-width="2" stroke-linejoin="round"/><circle cx="206.3" cy="379.5" r="6.6" fill="#555555"/><polygon points="206.6,400.2 212.66,403.7 212.66,410.7 206.6,414.2 200.54,410.7 200.54,403.7" fill="#555555" stroke="#555555" stroke-width="2" stroke-linejoin="round"/><polygon points="375,62.1 377.53,66.52 382.51,67.56 379.09,71.33 379.64,76.39 375,74.3 370.36,76.39 370.91,71.33 367.49,67.56 372.47,66.52" fill="#ee3e44" stroke="#ee3e44" stroke-width="2" stroke-linejoin="round"/><polygon points="369.9,214.7 369.9,229.3 383.3,222" fill="#ee3e44" stroke="#ee3e44" stroke-width="2" stroke-linejoin="round"/><polygon points="383.2,246.5 390.8,254.1 383.2,261.7 375.6,254.1" fill="#ee3e44" stroke="#ee3e44" stroke-width="2" stroke-linejoin="round"/><polygon points="396.5,265.7 396.5,280.3 383.1,273" fill="#ee3e44" stroke="#ee3e44" stroke-width="2" stroke-linejoin="round"/><line x1="399.6" y1="286.3" x2="415.6" y2="286.3" stroke="#ee3e44" stroke-width="3.9" stroke-linecap="round"/><line x1="407.6" y1="278.3" x2="407.6" y2="294.3" stroke="#ee3e44" stroke-width="3.9" stroke-linecap="round"/><polygon points="399.9,288.4 406.84,293.44 404.19,301.61 395.61,301.61 392.96,293.44" fill="#ee3e44" stroke="#ee3e44" stroke-width="2" stroke-linejoin="round"/><polygon points="367,302.5 381.6,302.5 374.3,289.1" fill="#ee3e44" stroke="#ee3e44" stroke-width="2" stroke-linejoin="round"/><rect x="368.9" y="284.4" width="11.2" height="11.2" fill="#ee3e44" stroke="#ee3e44" stroke-width="0.8"/><polygon points="375.3,336.7 389.9,336.7 382.6,350.1" fill="#ee3e44" stroke="#ee3e44" stroke-width="2" stroke-linejoin="round"/><line x1="384.8" y1="345.6" x2="399.4" y2="360.2" stroke="#ee3e44" stroke-width="3.9" stroke-linecap="round"/><line x1="384.8" y1="360.2" x2="399.4" y2="345.6" stroke="#ee3e44" stroke-width="3.9" stroke-linecap="round"/><circle cx="373.2" cy="369.5" r="6.6" fill="#ee3e44"/><polygon points="383.2,364.7 389.26,368.2 389.26,375.2 383.2,378.7 377.14,375.2 377.14,368.2" fill="#ee3e44" stroke="#ee3e44" stroke-width="2" stroke-linejoin="round"/><polygon points="542.9,202.4 545.43,206.82 550.41,207.86 546.99,211.63 547.54,216.69 542.9,214.6 538.26,216.69 538.81,211.63 535.39,207.86 540.37,206.82" fill="#3f7be8" stroke="#3f7be8" stroke-width="2" stroke-linejoin="round"/><polygon points="559.9,293.8 567.5,301.4 559.9,309 552.3,301.4" fill="#3f7be8" stroke="#3f7be8" stroke-width="2" stroke-linejoin="round"/><polygon points="562.6,318.5 562.6,333.1 576,325.8" fill="#3f7be8" stroke="#3f7be8" stroke-width="2" stroke-linejoin="round"/><polygon points="543.7,343.1 558.3,343.1 551,329.7" fill="#3f7be8" stroke="#3f7be8" stroke-width="2" stroke-linejoin="round"/><polygon points="554.2,342.7 554.2,357.3 540.8,350" fill="#3f7be8" stroke="#3f7be8" stroke-width="2" stroke-linejoin="round"/><line x1="568.9" y1="345.9" x2="583.5" y2="360.5" stroke="#3f7be8" stroke-width="3.9" stroke-linecap="round"/><line x1="568.9" y1="360.5" x2="583.5" y2="345.9" stroke="#3f7be8" stroke-width="3.9" stroke-linecap="round"/><polygon points="559.9,355.2 566.84,360.24 564.19,368.41 555.61,368.41 552.96,360.24" fill="#3f7be8" stroke="#3f7be8" stroke-width="2" stroke-linejoin="round"/><rect x="548.4" y="352" width="11.2" height="11.2" fill="#3f7be8" stroke="#3f7be8" stroke-width="0.8"/><line x1="560" y1="367.7" x2="576" y2="367.7" stroke="#3f7be8" stroke-width="3.9" stroke-linecap="round"/><line x1="568" y1="359.7" x2="568" y2="375.7" stroke="#3f7be8" stroke-width="3.9" stroke-linecap="round"/><circle cx="542.2" cy="379" r="6.6" fill="#3f7be8"/><polygon points="551.8,392.8 557.86,396.3 557.86,403.3 551.8,406.8 545.74,403.3 545.74,396.3" fill="#3f7be8" stroke="#3f7be8" stroke-width="2" stroke-linejoin="round"/><polygon points="534.1,400.2 548.7,400.2 541.4,413.6" fill="#3f7be8" stroke="#3f7be8" stroke-width="2" stroke-linejoin="round"/><polygon points="711.3,184.5 713.83,188.92 718.81,189.96 715.39,193.73 715.94,198.79 711.3,196.7 706.66,198.79 707.21,193.73 703.79,189.96 708.77,188.92" fill="#4db870" stroke="#4db870" stroke-width="2" stroke-linejoin="round"/><polygon points="711.3,267.7 718.9,275.3 711.3,282.9 703.7,275.3" fill="#4db870" stroke="#4db870" stroke-width="2" stroke-linejoin="round"/><polygon points="706.3,292.5 706.3,307.1 719.7,299.8" fill="#4db870" stroke="#4db870" stroke-width="2" stroke-linejoin="round"/><polygon points="716.8,327.2 723.74,332.24 721.09,340.41 712.51,340.41 709.86,332.24" fill="#4db870" stroke="#4db870" stroke-width="2" stroke-linejoin="round"/><line x1="738.9" y1="340.5" x2="753.5" y2="355.1" stroke="#4db870" stroke-width="3.9" stroke-linecap="round"/><line x1="738.9" y1="355.1" x2="753.5" y2="340.5" stroke="#4db870" stroke-width="3.9" stroke-linecap="round"/><line x1="732.1" y1="357.3" x2="748.1" y2="357.3" stroke="#4db870" stroke-width="3.9" stroke-linecap="round"/><line x1="740.1" y1="349.3" x2="740.1" y2="365.3" stroke="#4db870" stroke-width="3.9" stroke-linecap="round"/><rect x="705.2" y="354.3" width="11.2" height="11.2" fill="#4db870" stroke="#4db870" stroke-width="0.8"/><polygon points="740.3,365.5 740.3,380.1 726.9,372.8" fill="#4db870" stroke="#4db870" stroke-width="2" stroke-linejoin="round"/><circle cx="716" cy="373.7" r="6.6" fill="#4db870"/><polygon points="714.7,392.8 729.3,392.8 722,379.4" fill="#4db870" stroke="#4db870" stroke-width="2" stroke-linejoin="round"/><polygon points="722.5,389.9 737.1,389.9 729.8,403.3" fill="#4db870" stroke="#4db870" stroke-width="2" stroke-linejoin="round"/><polygon points="710.8,420.2 716.86,423.7 716.86,430.7 710.8,434.2 704.74,430.7 704.74,423.7" fill="#4db870" stroke="#4db870" stroke-width="2" stroke-linejoin="round"/><polyline points="198.8,290.3 367,285.6 534.8,344.3 703,343.5" fill="none" stroke="#000" stroke-width="4.2" stroke-linejoin="round"/><circle cx="198.8" cy="290.3" r="4.6" fill="#fff" stroke="#000" stroke-width="2.8"/><circle cx="367" cy="285.6" r="4.6" fill="#fff" stroke="#000" stroke-width="2.8"/><circle cx="534.8" cy="344.3" r="4.6" fill="#fff" stroke="#000" stroke-width="2.8"/><circle cx="703" cy="343.5" r="4.6" fill="#fff" stroke="#000" stroke-width="2.8"/><rect x="121.6" y="44.3" width="672.2" height="403.3" fill="none" stroke="#000" stroke-width="2.8"/><text x="819" y="25" font-size="33" text-anchor="start" font-weight="bold">b</text><text x="906.5" y="456.4" font-size="25" text-anchor="end">0</text><line x1="913.8" y1="313.18" x2="923.1" y2="313.18" stroke="#000" stroke-width="2.6"/><text x="906.5" y="321.98" font-size="25" text-anchor="end">25</text><line x1="913.8" y1="178.75" x2="923.1" y2="178.75" stroke="#000" stroke-width="2.6"/><text x="906.5" y="187.55" font-size="25" text-anchor="end">50</text><text x="906.5" y="53.13" font-size="25" text-anchor="end">75</text><line x1="998" y1="447.6" x2="998" y2="438.1" stroke="#000" stroke-width="2.6"/><text x="996" y="476" font-size="24.4" text-anchor="middle">50</text><line x1="1166.3" y1="447.6" x2="1166.3" y2="438.1" stroke="#000" stroke-width="2.6"/><text x="1164.3" y="476" font-size="24.4" text-anchor="middle">100</text><line x1="1334.3" y1="447.6" x2="1334.3" y2="438.1" stroke="#000" stroke-width="2.6"/><text x="1332.3" y="476" font-size="24.4" text-anchor="middle">150</text><line x1="1502.5" y1="447.6" x2="1502.5" y2="438.1" stroke="#000" stroke-width="2.6"/><text x="1500.5" y="476" font-size="24.4" text-anchor="middle">200</text><text x="1250" y="510" font-size="28.8" text-anchor="middle">Frequency (Hz)</text><text x="860.5" y="246" font-size="28.8" text-anchor="middle" transform="rotate(-90 860.5 246)">Threshold current amp. (mA)</text><circle cx="938" cy="75.2" r="6.6" fill="#000"/><line x1="947.8" y1="75.2" x2="963.8" y2="75.2" stroke="#000" stroke-width="3.9" stroke-linecap="round"/><line x1="955.8" y1="67.2" x2="955.8" y2="83.2" stroke="#000" stroke-width="3.9" stroke-linecap="round"/><polygon points="974.4,67.6 982,75.2 974.4,82.8 966.8,75.2" fill="#000" stroke="#000" stroke-width="2" stroke-linejoin="round"/><polygon points="993.3,67.3 995.83,71.72 1000.81,72.76 997.39,76.53 997.94,81.59 993.3,79.5 988.66,81.59 989.21,76.53 985.79,72.76 990.77,71.72" fill="#000" stroke="#000" stroke-width="2" stroke-linejoin="round"/><polygon points="1004.4,69 1019,69 1011.7,82.4" fill="#000" stroke="#000" stroke-width="2" stroke-linejoin="round"/><polygon points="1036.8,67.9 1036.8,82.5 1023.4,75.2" fill="#000" stroke="#000" stroke-width="2" stroke-linejoin="round"/><polygon points="940.1,109.4 946.16,112.9 946.16,119.9 940.1,123.4 934.04,119.9 934.04,112.9" fill="#000" stroke="#000" stroke-width="2" stroke-linejoin="round"/><polygon points="950.4,109.1 950.4,123.7 963.8,116.4" fill="#000" stroke="#000" stroke-width="2" stroke-linejoin="round"/><line x1="968.7" y1="109.1" x2="983.3" y2="123.7" stroke="#000" stroke-width="3.9" stroke-linecap="round"/><line x1="968.7" y1="123.7" x2="983.3" y2="109.1" stroke="#000" stroke-width="3.9" stroke-linecap="round"/><rect x="987.5" y="110.8" width="11.2" height="11.2" fill="#000" stroke="#000" stroke-width="0.8"/><polygon points="1002.5,122.6 1017.1,122.6 1009.8,109.2" fill="#000" stroke="#000" stroke-width="2" stroke-linejoin="round"/><polygon points="1028.5,109.6 1035.44,114.64 1032.79,122.81 1024.21,122.81 1021.56,114.64" fill="#000" stroke="#000" stroke-width="2" stroke-linejoin="round"/><text x="1051.5" y="85.6" font-size="28.8" text-anchor="start">Female</text><text x="1051.5" y="126.8" font-size="28.8" text-anchor="start">Male</text><line x1="991" y1="229.8" x2="991" y2="324.7" stroke="#000" stroke-width="4.5"/><line x1="969.5" y1="229.8" x2="993" y2="229.8" stroke="#000" stroke-width="4.5" stroke-linecap="round"/><line x1="969.5" y1="324.7" x2="993" y2="324.7" stroke="#000" stroke-width="4.5" stroke-linecap="round"/><rect x="950.3" y="255.8" width="40.7" height="57.7" fill="#808080" stroke="#000" stroke-width="4.5"/><line x1="941.3" y1="277.5" x2="991" y2="277.5" stroke="#000" stroke-width="4.5" stroke-linecap="round"/><line x1="1159.3" y1="220" x2="1159.3" y2="322.1" stroke="#000" stroke-width="4.5"/><line x1="1137.8" y1="220" x2="1161.3" y2="220" stroke="#000" stroke-width="4.5" stroke-linecap="round"/><line x1="1137.8" y1="322.1" x2="1161.3" y2="322.1" stroke="#000" stroke-width="4.5" stroke-linecap="round"/><rect x="1118" y="260" width="41.3" height="52.9" fill="#ee6b72" stroke="#000" stroke-width="4.5"/><line x1="1109" y1="271.6" x2="1159.3" y2="271.6" stroke="#000" stroke-width="4.5" stroke-linecap="round"/><line x1="1327.3" y1="218.2" x2="1327.3" y2="348.9" stroke="#000" stroke-width="4.5"/><line x1="1305.8" y1="218.2" x2="1329.3" y2="218.2" stroke="#000" stroke-width="4.5" stroke-linecap="round"/><line x1="1305.8" y1="348.9" x2="1329.3" y2="348.9" stroke="#000" stroke-width="4.5" stroke-linecap="round"/><rect x="1286.8" y="260.3" width="40.5" height="56.1" fill="#5c93e6" stroke="#000" stroke-width="4.5"/><line x1="1277.8" y1="299.9" x2="1327.3" y2="299.9" stroke="#000" stroke-width="4.5" stroke-linecap="round"/><line x1="1495.5" y1="225" x2="1495.5" y2="340.6" stroke="#000" stroke-width="4.5"/><line x1="1474" y1="225" x2="1497.5" y2="225" stroke="#000" stroke-width="4.5" stroke-linecap="round"/><line x1="1474" y1="340.6" x2="1497.5" y2="340.6" stroke="#000" stroke-width="4.5" stroke-linecap="round"/><rect x="1454.9" y="268.6" width="40.6" height="47.8" fill="#74cb96" stroke="#000" stroke-width="4.5"/><line x1="1445.9" y1="294" x2="1495.5" y2="294" stroke="#000" stroke-width="4.5" stroke-linecap="round"/><polygon points="999.2,162.8 1006.8,170.4 999.2,178 991.6,170.4" fill="#555555" stroke="#555555" stroke-width="2" stroke-linejoin="round"/><polygon points="1004.7,224.8 1004.7,239.4 991.3,232.1" fill="#555555" stroke="#555555" stroke-width="2" stroke-linejoin="round"/><polygon points="1019.5,244.3 1026.44,249.34 1023.79,257.51 1015.21,257.51 1012.56,249.34" fill="#555555" stroke="#555555" stroke-width="2" stroke-linejoin="round"/><polygon points="1010,251.5 1016.06,255 1016.06,262 1010,265.5 1003.94,262 1003.94,255" fill="#555555" stroke="#555555" stroke-width="2" stroke-linejoin="round"/><polygon points="990.5,264.7 1005.1,264.7 997.8,251.3" fill="#555555" stroke="#555555" stroke-width="2" stroke-linejoin="round"/><line x1="1001.4" y1="278.9" x2="1017.4" y2="278.9" stroke="#555555" stroke-width="3.9" stroke-linecap="round"/><line x1="1009.4" y1="270.9" x2="1009.4" y2="286.9" stroke="#555555" stroke-width="3.9" stroke-linecap="round"/><rect x="992.2" y="307.9" width="11.2" height="11.2" fill="#555555" stroke="#555555" stroke-width="0.8"/><polygon points="998.7,307.3 1013.3,307.3 1006,320.7" fill="#555555" stroke="#555555" stroke-width="2" stroke-linejoin="round"/><polygon points="1010.6,306.2 1010.6,320.8 1024,313.5" fill="#555555" stroke="#555555" stroke-width="2" stroke-linejoin="round"/><polygon points="1023.6,305.6 1026.13,310.02 1031.11,311.06 1027.69,314.83 1028.24,319.89 1023.6,317.8 1018.96,319.89 1019.51,314.83 1016.09,311.06 1021.07,310.02" fill="#555555" stroke="#555555" stroke-width="2" stroke-linejoin="round"/><line x1="1025.1" y1="306.2" x2="1039.7" y2="320.8" stroke="#555555" stroke-width="3.9" stroke-linecap="round"/><line x1="1025.1" y1="320.8" x2="1039.7" y2="306.2" stroke="#555555" stroke-width="3.9" stroke-linecap="round"/><circle cx="998.5" cy="346" r="6.6" fill="#555555"/><polygon points="1167.4,121.7 1175,129.3 1167.4,136.9 1159.8,129.3" fill="#ee3e44" stroke="#ee3e44" stroke-width="2" stroke-linejoin="round"/><polygon points="1177.8,243.7 1183.86,247.2 1183.86,254.2 1177.8,257.7 1171.74,254.2 1171.74,247.2" fill="#ee3e44" stroke="#ee3e44" stroke-width="2" stroke-linejoin="round"/><polygon points="1160.1,264.2 1174.7,264.2 1167.4,250.8" fill="#ee3e44" stroke="#ee3e44" stroke-width="2" stroke-linejoin="round"/><polygon points="1177,252.5 1179.53,256.92 1184.51,257.96 1181.09,261.73 1181.64,266.79 1177,264.7 1172.36,266.79 1172.91,261.73 1169.49,257.96 1174.47,256.92" fill="#ee3e44" stroke="#ee3e44" stroke-width="2" stroke-linejoin="round"/><polygon points="1188.2,252.8 1195.14,257.84 1192.49,266.01 1183.91,266.01 1181.26,257.84" fill="#ee3e44" stroke="#ee3e44" stroke-width="2" stroke-linejoin="round"/><line x1="1191.4" y1="259.9" x2="1207.4" y2="259.9" stroke="#ee3e44" stroke-width="3.9" stroke-linecap="round"/><line x1="1199.4" y1="251.9" x2="1199.4" y2="267.9" stroke="#ee3e44" stroke-width="3.9" stroke-linecap="round"/><polygon points="1160.9,271 1175.5,271 1168.2,284.4" fill="#ee3e44" stroke="#ee3e44" stroke-width="2" stroke-linejoin="round"/><polygon points="1183.2,281.1 1183.2,295.7 1169.8,288.4" fill="#ee3e44" stroke="#ee3e44" stroke-width="2" stroke-linejoin="round"/><rect x="1161.8" y="307.7" width="11.2" height="11.2" fill="#ee3e44" stroke="#ee3e44" stroke-width="0.8"/><circle cx="1167.4" cy="320.5" r="6.6" fill="#ee3e44"/><polygon points="1181.2,306 1181.2,320.6 1194.6,313.3" fill="#ee3e44" stroke="#ee3e44" stroke-width="2" stroke-linejoin="round"/><line x1="1192.1" y1="306" x2="1206.7" y2="320.6" stroke="#ee3e44" stroke-width="3.9" stroke-linecap="round"/><line x1="1192.1" y1="320.6" x2="1206.7" y2="306" stroke="#ee3e44" stroke-width="3.9" stroke-linecap="round"/><polygon points="1335.3,104.2 1342.9,111.8 1335.3,119.4 1327.7,111.8" fill="#3f7be8" stroke="#3f7be8" stroke-width="2" stroke-linejoin="round"/><polygon points="1349.2,235.8 1356.14,240.84 1353.49,249.01 1344.91,249.01 1342.26,240.84" fill="#3f7be8" stroke="#3f7be8" stroke-width="2" stroke-linejoin="round"/><polygon points="1327.4,264.5 1342,264.5 1334.7,251.1" fill="#3f7be8" stroke="#3f7be8" stroke-width="2" stroke-linejoin="round"/><line x1="1354.5" y1="259.8" x2="1370.5" y2="259.8" stroke="#3f7be8" stroke-width="3.9" stroke-linecap="round"/><line x1="1362.5" y1="251.8" x2="1362.5" y2="267.8" stroke="#3f7be8" stroke-width="3.9" stroke-linecap="round"/><polygon points="1349.2,262.4 1351.73,266.82 1356.71,267.86 1353.29,271.63 1353.84,276.69 1349.2,274.6 1344.56,276.69 1345.11,271.63 1341.69,267.86 1346.67,266.82" fill="#3f7be8" stroke="#3f7be8" stroke-width="2" stroke-linejoin="round"/><polygon points="1343.7,279.7 1343.7,294.3 1330.3,287" fill="#3f7be8" stroke="#3f7be8" stroke-width="2" stroke-linejoin="round"/><polygon points="1326.5,304.8 1341.1,304.8 1333.8,318.2" fill="#3f7be8" stroke="#3f7be8" stroke-width="2" stroke-linejoin="round"/><circle cx="1334.7" cy="319.3" r="6.6" fill="#3f7be8"/><polygon points="1342.4,306.5 1342.4,321.1 1355.8,313.8" fill="#3f7be8" stroke="#3f7be8" stroke-width="2" stroke-linejoin="round"/><line x1="1355.2" y1="306.5" x2="1369.8" y2="321.1" stroke="#3f7be8" stroke-width="3.9" stroke-linecap="round"/><line x1="1355.2" y1="321.1" x2="1369.8" y2="306.5" stroke="#3f7be8" stroke-width="3.9" stroke-linecap="round"/><rect x="1329.7" y="341.8" width="11.2" height="11.2" fill="#3f7be8" stroke="#3f7be8" stroke-width="0.8"/><polygon points="1349.2,354.9 1355.26,358.4 1355.26,365.4 1349.2,368.9 1343.14,365.4 1343.14,358.4" fill="#3f7be8" stroke="#3f7be8" stroke-width="2" stroke-linejoin="round"/><polygon points="1503.4,115.3 1511,122.9 1503.4,130.5 1495.8,122.9" fill="#4db870" stroke="#4db870" stroke-width="2" stroke-linejoin="round"/><polygon points="1496.1,264.5 1510.7,264.5 1503.4,251.1" fill="#4db870" stroke="#4db870" stroke-width="2" stroke-linejoin="round"/><line x1="1509.3" y1="252.8" x2="1525.3" y2="252.8" stroke="#4db870" stroke-width="3.9" stroke-linecap="round"/><line x1="1517.3" y1="244.8" x2="1517.3" y2="260.8" stroke="#4db870" stroke-width="3.9" stroke-linecap="round"/><polygon points="1516.8,267 1519.33,271.42 1524.31,272.46 1520.89,276.23 1521.44,281.29 1516.8,279.2 1512.16,281.29 1512.71,276.23 1509.29,272.46 1514.27,271.42" fill="#4db870" stroke="#4db870" stroke-width="2" stroke-linejoin="round"/><polygon points="1530.6,270 1537.54,275.04 1534.89,283.21 1526.31,283.21 1523.66,275.04" fill="#4db870" stroke="#4db870" stroke-width="2" stroke-linejoin="round"/><polygon points="1510.9,276 1510.9,290.6 1497.5,283.3" fill="#4db870" stroke="#4db870" stroke-width="2" stroke-linejoin="round"/><rect x="1497.8" y="297.1" width="11.2" height="11.2" fill="#4db870" stroke="#4db870" stroke-width="0.8"/><polygon points="1512.4,306.5 1512.4,321.1 1525.8,313.8" fill="#4db870" stroke="#4db870" stroke-width="2" stroke-linejoin="round"/><line x1="1523.7" y1="306.1" x2="1538.3" y2="320.7" stroke="#4db870" stroke-width="3.9" stroke-linecap="round"/><line x1="1523.7" y1="320.7" x2="1538.3" y2="306.1" stroke="#4db870" stroke-width="3.9" stroke-linecap="round"/><polygon points="1508.5,314.1 1523.1,314.1 1515.8,327.5" fill="#4db870" stroke="#4db870" stroke-width="2" stroke-linejoin="round"/><circle cx="1502.9" cy="326.4" r="6.6" fill="#4db870"/><polygon points="1503.4,336.7 1509.46,340.2 1509.46,347.2 1503.4,350.7 1497.34,347.2 1497.34,340.2" fill="#4db870" stroke="#4db870" stroke-width="2" stroke-linejoin="round"/><polyline points="991,276.8 1159.3,270.5 1327.3,283.3 1495.5,282.3" fill="none" stroke="#000" stroke-width="4.2" stroke-linejoin="round"/><circle cx="991" cy="276.8" r="4.6" fill="#fff" stroke="#000" stroke-width="2.8"/><circle cx="1159.3" cy="270.5" r="4.6" fill="#fff" stroke="#000" stroke-width="2.8"/><circle cx="1327.3" cy="283.3" r="4.6" fill="#fff" stroke="#000" stroke-width="2.8"/><circle cx="1495.5" cy="282.3" r="4.6" fill="#fff" stroke="#000" stroke-width="2.8"/><rect x="913.8" y="44.3" width="672.5" height="403.3" fill="none" stroke="#000" stroke-width="2.8"/><text x="1622" y="25" font-size="33" text-anchor="start" font-weight="bold">c</text><text x="1692" y="454.6" font-size="25" text-anchor="end">0</text><line x1="1701.6" y1="363.4" x2="1710.9" y2="363.4" stroke="#000" stroke-width="2.6"/><text x="1692" y="372.2" font-size="25" text-anchor="end">50</text><line x1="1701.6" y1="281" x2="1710.9" y2="281" stroke="#000" stroke-width="2.6"/><text x="1692" y="289.8" font-size="25" text-anchor="end">100</text><line x1="1701.6" y1="198.6" x2="1710.9" y2="198.6" stroke="#000" stroke-width="2.6"/><text x="1692" y="207.4" font-size="25" text-anchor="end">150</text><line x1="1701.6" y1="116.2" x2="1710.9" y2="116.2" stroke="#000" stroke-width="2.6"/><text x="1692" y="125" font-size="25" text-anchor="end">200</text><line x1="1744" y1="446" x2="1744" y2="436.5" stroke="#000" stroke-width="2.6"/><text x="1744.4" y="476" font-size="24.6" text-anchor="middle">50</text><line x1="1850.2" y1="446" x2="1850.2" y2="436.5" stroke="#000" stroke-width="2.6"/><text x="1850.6" y="476" font-size="24.6" text-anchor="middle">100</text><line x1="1956.4" y1="446" x2="1956.4" y2="436.5" stroke="#000" stroke-width="2.6"/><text x="1956.8" y="476" font-size="24.6" text-anchor="middle">150</text><line x1="2061.8" y1="446" x2="2061.8" y2="436.5" stroke="#000" stroke-width="2.6"/><text x="2062.2" y="476" font-size="24.6" text-anchor="middle">200</text><text x="1902.5" y="510" font-size="28.8" text-anchor="middle">Frequency (Hz)</text><text x="1631" y="246" font-size="28.8" text-anchor="middle" transform="rotate(-90 1631 246)">Relative perception (%)</text><line x1="1701.6" y1="281" x2="2103.6" y2="281" stroke="#000" stroke-width="3" stroke-dasharray="5.5 4"/><clipPath id="clipc"><rect x="1701.6" y="44.3" width="402" height="401.7"/></clipPath><g clip-path="url(#clipc)"><line x1="1744" y1="304.2" x2="1744" y2="403" stroke="#555555" stroke-width="4"/><line x1="1735" y1="304.2" x2="1753" y2="304.2" stroke="#555555" stroke-width="4" stroke-linecap="round"/><line x1="1735" y1="403" x2="1753" y2="403" stroke="#555555" stroke-width="4" stroke-linecap="round"/><line x1="1850.2" y1="256" x2="1850.2" y2="378" stroke="#555555" stroke-width="4"/><line x1="1841.2" y1="256" x2="1859.2" y2="256" stroke="#555555" stroke-width="4" stroke-linecap="round"/><line x1="1841.2" y1="378" x2="1859.2" y2="378" stroke="#555555" stroke-width="4" stroke-linecap="round"/><line x1="1956.4" y1="306.2" x2="1956.4" y2="366.8" stroke="#555555" stroke-width="4"/><line x1="1947.4" y1="306.2" x2="1965.4" y2="306.2" stroke="#555555" stroke-width="4" stroke-linecap="round"/><line x1="1947.4" y1="366.8" x2="1965.4" y2="366.8" stroke="#555555" stroke-width="4" stroke-linecap="round"/><line x1="2061.8" y1="341.2" x2="2061.8" y2="429.5" stroke="#555555" stroke-width="4"/><line x1="2052.8" y1="341.2" x2="2070.8" y2="341.2" stroke="#555555" stroke-width="4" stroke-linecap="round"/><line x1="2052.8" y1="429.5" x2="2070.8" y2="429.5" stroke="#555555" stroke-width="4" stroke-linecap="round"/><polyline points="1744,353.7 1850.2,316.2 1956.4,337.5 2061.8,385" fill="none" stroke="#555555" stroke-width="4.4" stroke-linejoin="round"/><rect x="1736" y="345.7" width="16" height="16" fill="#555555"/><rect x="1842.2" y="308.2" width="16" height="16" fill="#555555"/><rect x="1948.4" y="329.5" width="16" height="16" fill="#555555"/><rect x="2053.8" y="377" width="16" height="16" fill="#555555"/><line x1="1744" y1="352" x2="1744" y2="443.7" stroke="#3f7be8" stroke-width="4"/><line x1="1735" y1="352" x2="1753" y2="352" stroke="#3f7be8" stroke-width="4" stroke-linecap="round"/><line x1="1735" y1="443.7" x2="1753" y2="443.7" stroke="#3f7be8" stroke-width="4" stroke-linecap="round"/><line x1="1850.2" y1="330.5" x2="1850.2" y2="446.2" stroke="#3f7be8" stroke-width="4"/><line x1="1841.2" y1="330.5" x2="1859.2" y2="330.5" stroke="#3f7be8" stroke-width="4" stroke-linecap="round"/><line x1="1841.2" y1="446.2" x2="1859.2" y2="446.2" stroke="#3f7be8" stroke-width="4" stroke-linecap="round"/><line x1="1956.4" y1="333.7" x2="1956.4" y2="435" stroke="#3f7be8" stroke-width="4"/><line x1="1947.4" y1="333.7" x2="1965.4" y2="333.7" stroke="#3f7be8" stroke-width="4" stroke-linecap="round"/><line x1="1947.4" y1="435" x2="1965.4" y2="435" stroke="#3f7be8" stroke-width="4" stroke-linecap="round"/><line x1="2061.8" y1="361.7" x2="2061.8" y2="443.7" stroke="#3f7be8" stroke-width="4"/><line x1="2052.8" y1="361.7" x2="2070.8" y2="361.7" stroke="#3f7be8" stroke-width="4" stroke-linecap="round"/><line x1="2052.8" y1="443.7" x2="2070.8" y2="443.7" stroke="#3f7be8" stroke-width="4" stroke-linecap="round"/><polyline points="1744,397.5 1850.2,388.3 1956.4,385 2061.8,402.5" fill="none" stroke="#3f7be8" stroke-width="4.4" stroke-linejoin="round"/><polygon points="1734.5,405 1753.5,405 1744,387.5" fill="#3f7be8" stroke="#3f7be8" stroke-width="1.5" stroke-linejoin="round"/><polygon points="1840.7,395.8 1859.7,395.8 1850.2,378.3" fill="#3f7be8" stroke="#3f7be8" stroke-width="1.5" stroke-linejoin="round"/><polygon points="1946.9,392.5 1965.9,392.5 1956.4,375" fill="#3f7be8" stroke="#3f7be8" stroke-width="1.5" stroke-linejoin="round"/><polygon points="2052.3,410 2071.3,410 2061.8,392.5" fill="#3f7be8" stroke="#3f7be8" stroke-width="1.5" stroke-linejoin="round"/><line x1="1744" y1="413.7" x2="1744" y2="452" stroke="#ee3e44" stroke-width="4"/><line x1="1735" y1="413.7" x2="1753" y2="413.7" stroke="#ee3e44" stroke-width="4" stroke-linecap="round"/><line x1="1735" y1="452" x2="1753" y2="452" stroke="#ee3e44" stroke-width="4" stroke-linecap="round"/><line x1="1850.2" y1="336.2" x2="1850.2" y2="449" stroke="#ee3e44" stroke-width="4"/><line x1="1841.2" y1="336.2" x2="1859.2" y2="336.2" stroke="#ee3e44" stroke-width="4" stroke-linecap="round"/><line x1="1841.2" y1="449" x2="1859.2" y2="449" stroke="#ee3e44" stroke-width="4" stroke-linecap="round"/><line x1="1956.4" y1="352.5" x2="1956.4" y2="437" stroke="#ee3e44" stroke-width="4"/><line x1="1947.4" y1="352.5" x2="1965.4" y2="352.5" stroke="#ee3e44" stroke-width="4" stroke-linecap="round"/><line x1="1947.4" y1="437" x2="1965.4" y2="437" stroke="#ee3e44" stroke-width="4" stroke-linecap="round"/><line x1="2061.8" y1="402" x2="2061.8" y2="447" stroke="#ee3e44" stroke-width="4"/><line x1="2052.8" y1="402" x2="2070.8" y2="402" stroke="#ee3e44" stroke-width="4" stroke-linecap="round"/><line x1="2052.8" y1="447" x2="2070.8" y2="447" stroke="#ee3e44" stroke-width="4" stroke-linecap="round"/><polyline points="1744,432.5 1850.2,392.5 1956.4,395 2061.8,424.2" fill="none" stroke="#ee3e44" stroke-width="4.4" stroke-linejoin="round"/><circle cx="1744" cy="432.5" r="8.6" fill="#ee3e44"/><circle cx="1850.2" cy="392.5" r="8.6" fill="#ee3e44"/><circle cx="1956.4" cy="395" r="8.6" fill="#ee3e44"/><circle cx="2061.8" cy="424.2" r="8.6" fill="#ee3e44"/><line x1="1744" y1="182" x2="1744" y2="254.5" stroke="#4db870" stroke-width="4"/><line x1="1735" y1="182" x2="1753" y2="182" stroke="#4db870" stroke-width="4" stroke-linecap="round"/><line x1="1735" y1="254.5" x2="1753" y2="254.5" stroke="#4db870" stroke-width="4" stroke-linecap="round"/><line x1="1850.2" y1="170.7" x2="1850.2" y2="235.7" stroke="#4db870" stroke-width="4"/><line x1="1841.2" y1="170.7" x2="1859.2" y2="170.7" stroke="#4db870" stroke-width="4" stroke-linecap="round"/><line x1="1841.2" y1="235.7" x2="1859.2" y2="235.7" stroke="#4db870" stroke-width="4" stroke-linecap="round"/><line x1="1956.4" y1="232.5" x2="1956.4" y2="277" stroke="#4db870" stroke-width="4"/><line x1="1947.4" y1="232.5" x2="1965.4" y2="232.5" stroke="#4db870" stroke-width="4" stroke-linecap="round"/><line x1="1947.4" y1="277" x2="1965.4" y2="277" stroke="#4db870" stroke-width="4" stroke-linecap="round"/><line x1="2061.8" y1="264.2" x2="2061.8" y2="334.7" stroke="#4db870" stroke-width="4"/><line x1="2052.8" y1="264.2" x2="2070.8" y2="264.2" stroke="#4db870" stroke-width="4" stroke-linecap="round"/><line x1="2052.8" y1="334.7" x2="2070.8" y2="334.7" stroke="#4db870" stroke-width="4" stroke-linecap="round"/><polyline points="1744,217.5 1850.2,203.7 1956.4,256 2061.8,300" fill="none" stroke="#4db870" stroke-width="4.4" stroke-linejoin="round"/><polygon points="1734.5,210 1753.5,210 1744,227.5" fill="#4db870" stroke="#4db870" stroke-width="1.5" stroke-linejoin="round"/><polygon points="1840.7,196.2 1859.7,196.2 1850.2,213.7" fill="#4db870" stroke="#4db870" stroke-width="1.5" stroke-linejoin="round"/><polygon points="1946.9,248.5 1965.9,248.5 1956.4,266" fill="#4db870" stroke="#4db870" stroke-width="1.5" stroke-linejoin="round"/><polygon points="2052.3,292.5 2071.3,292.5 2061.8,310" fill="#4db870" stroke="#4db870" stroke-width="1.5" stroke-linejoin="round"/></g><text x="1811.7" y="75" font-size="29" text-anchor="middle" font-weight="bold">Compressed</text><text x="2021" y="75" font-size="28.7" text-anchor="middle" font-weight="bold">Relaxed</text><line x1="1730" y1="103.2" x2="1781" y2="103.2" stroke="#3f7be8" stroke-width="4.4" stroke-linecap="round"/><polygon points="1746,110.7 1765,110.7 1755.5,93.2" fill="#3f7be8" stroke="#3f7be8" stroke-width="1.5" stroke-linejoin="round"/><text x="1792" y="113" font-size="29.2" text-anchor="start">250 mA</text><line x1="1929" y1="103.2" x2="1980" y2="103.2" stroke="#4db870" stroke-width="4.4" stroke-linecap="round"/><polygon points="1945,95.7 1964,95.7 1954.5,113.2" fill="#4db870" stroke="#4db870" stroke-width="1.5" stroke-linejoin="round"/><text x="1989.5" y="113" font-size="29.2" text-anchor="start">250 mA</text><line x1="1929" y1="135.2" x2="1980" y2="135.2" stroke="#555555" stroke-width="4.4" stroke-linecap="round"/><rect x="1946.5" y="127.2" width="16" height="16" fill="#555555"/><text x="1989.5" y="145" font-size="29.2" text-anchor="start">100 mA</text><line x1="1929" y1="168" x2="1980" y2="168" stroke="#ee3e44" stroke-width="4.4" stroke-linecap="round"/><circle cx="1954.5" cy="168" r="8.6" fill="#ee3e44"/><text x="1989.5" y="177.8" font-size="29.2" text-anchor="start">50 mA</text><rect x="1701.6" y="44.3" width="402" height="401.7" fill="none" stroke="#000" stroke-width="2.8"/><text x="19" y="552.5" font-size="33" text-anchor="start" font-weight="bold">d</text><text x="75.8" y="969.2" font-size="25" text-anchor="end">0</text><line x1="84.3" y1="906.25" x2="90.3" y2="906.25" stroke="#000" stroke-width="2.4"/><text x="75.8" y="915.05" font-size="25" text-anchor="end">1</text><line x1="84.3" y1="852.1" x2="90.3" y2="852.1" stroke="#000" stroke-width="2.4"/><text x="75.8" y="860.9" font-size="25" text-anchor="end">2</text><line x1="84.3" y1="797.95" x2="90.3" y2="797.95" stroke="#000" stroke-width="2.4"/><text x="75.8" y="806.75" font-size="25" text-anchor="end">3</text><line x1="84.3" y1="743.8" x2="90.3" y2="743.8" stroke="#000" stroke-width="2.4"/><text x="75.8" y="752.6" font-size="25" text-anchor="end">4</text><line x1="84.3" y1="689.65" x2="90.3" y2="689.65" stroke="#000" stroke-width="2.4"/><text x="75.8" y="698.45" font-size="25" text-anchor="end">5</text><line x1="84.3" y1="635.5" x2="90.3" y2="635.5" stroke="#000" stroke-width="2.4"/><text x="75.8" y="644.3" font-size="25" text-anchor="end">6</text><line x1="84.3" y1="581.35" x2="90.3" y2="581.35" stroke="#000" stroke-width="2.4"/><text x="75.8" y="590.15" font-size="25" text-anchor="end">7</text><line x1="155.78" y1="960.2" x2="155.78" y2="954.6" stroke="#000" stroke-width="2.4"/><text x="154.98" y="987.3" font-size="25" text-anchor="middle">0.33</text><line x1="155.78" y1="852.1" x2="155.78" y2="865.64" stroke="#333333" stroke-width="3.9"/><line x1="155.78" y1="906.25" x2="155.78" y2="906.25" stroke="#333333" stroke-width="3.9"/><line x1="132.58" y1="852.1" x2="178.98" y2="852.1" stroke="#333333" stroke-width="3.9"/><rect x="112.48" y="865.64" width="86.6" height="40.61" fill="#e64b37" stroke="#333333" stroke-width="3.9"/><line x1="112.48" y1="906.25" x2="199.08" y2="906.25" stroke="#333333" stroke-width="3.9"/><polygon points="155.78,787.95 161.78,797.95 155.78,807.95 149.78,797.95" fill="#333333"/><polygon points="155.78,733.8 161.78,743.8 155.78,753.8 149.78,743.8" fill="#333333"/><polygon points="155.78,679.65 161.78,689.65 155.78,699.65 149.78,689.65" fill="#333333"/><line x1="150.38" y1="875.4" x2="161.18" y2="886.2" stroke="#000" stroke-width="4.4"/><line x1="150.38" y1="886.2" x2="161.18" y2="875.4" stroke="#000" stroke-width="4.4"/><line x1="298.75" y1="960.2" x2="298.75" y2="954.6" stroke="#000" stroke-width="2.4"/><text x="297.95" y="987.3" font-size="25" text-anchor="middle">0.66</text><line x1="298.75" y1="635.5" x2="298.75" y2="743.8" stroke="#333333" stroke-width="3.9"/><line x1="298.75" y1="852.1" x2="298.75" y2="906.25" stroke="#333333" stroke-width="3.9"/><line x1="275.55" y1="635.5" x2="321.95" y2="635.5" stroke="#333333" stroke-width="3.9"/><line x1="275.55" y1="906.25" x2="321.95" y2="906.25" stroke="#333333" stroke-width="3.9"/><rect x="255.45" y="743.8" width="86.6" height="108.3" fill="#6cc8d9" stroke="#333333" stroke-width="3.9"/><line x1="255.45" y1="825.02" x2="342.05" y2="825.02" stroke="#333333" stroke-width="3.9"/><line x1="293.35" y1="795.8" x2="304.15" y2="806.6" stroke="#000" stroke-width="4.4"/><line x1="293.35" y1="806.6" x2="304.15" y2="795.8" stroke="#000" stroke-width="4.4"/><line x1="441.72" y1="960.2" x2="441.72" y2="954.6" stroke="#000" stroke-width="2.4"/><text x="440.92" y="987.3" font-size="25" text-anchor="middle">1.00</text><line x1="441.72" y1="581.35" x2="441.72" y2="689.65" stroke="#333333" stroke-width="3.9"/><line x1="441.72" y1="852.1" x2="441.72" y2="906.25" stroke="#333333" stroke-width="3.9"/><line x1="418.52" y1="581.35" x2="464.92" y2="581.35" stroke="#333333" stroke-width="3.9"/><line x1="418.52" y1="906.25" x2="464.92" y2="906.25" stroke="#333333" stroke-width="3.9"/><rect x="398.42" y="689.65" width="86.6" height="162.45" fill="#4db392" stroke="#333333" stroke-width="3.9"/><line x1="398.42" y1="797.95" x2="485.02" y2="797.95" stroke="#333333" stroke-width="3.9"/><line x1="436.32" y1="770.35" x2="447.12" y2="781.15" stroke="#000" stroke-width="4.4"/><line x1="436.32" y1="781.15" x2="447.12" y2="770.35" stroke="#000" stroke-width="4.4"/><text x="298.75" y="1017.9" font-size="28.8" text-anchor="middle">Rotation angle (°)</text><text x="44" y="750" font-size="28.8" text-anchor="middle" transform="rotate(-90 44 750)">PI value (max: 7)</text><rect x="84.3" y="537.8" width="428.9" height="422.4" fill="none" stroke="#000" stroke-width="2.8"/><text x="553" y="552.5" font-size="33" text-anchor="start" font-weight="bold">e</text><text x="612.1" y="969.2" font-size="25" text-anchor="end">0</text><line x1="620.6" y1="906.25" x2="626.6" y2="906.25" stroke="#000" stroke-width="2.4"/><text x="612.1" y="915.05" font-size="25" text-anchor="end">1</text><line x1="620.6" y1="852.1" x2="626.6" y2="852.1" stroke="#000" stroke-width="2.4"/><text x="612.1" y="860.9" font-size="25" text-anchor="end">2</text><line x1="620.6" y1="797.95" x2="626.6" y2="797.95" stroke="#000" stroke-width="2.4"/><text x="612.1" y="806.75" font-size="25" text-anchor="end">3</text><line x1="620.6" y1="743.8" x2="626.6" y2="743.8" stroke="#000" stroke-width="2.4"/><text x="612.1" y="752.6" font-size="25" text-anchor="end">4</text><line x1="620.6" y1="689.65" x2="626.6" y2="689.65" stroke="#000" stroke-width="2.4"/><text x="612.1" y="698.45" font-size="25" text-anchor="end">5</text><line x1="620.6" y1="635.5" x2="626.6" y2="635.5" stroke="#000" stroke-width="2.4"/><text x="612.1" y="644.3" font-size="25" text-anchor="end">6</text><line x1="620.6" y1="581.35" x2="626.6" y2="581.35" stroke="#000" stroke-width="2.4"/><text x="612.1" y="590.15" font-size="25" text-anchor="end">7</text><line x1="692.17" y1="960.2" x2="692.17" y2="954.6" stroke="#000" stroke-width="2.4"/><text x="691.37" y="987.3" font-size="25" text-anchor="middle">5</text><line x1="692.17" y1="635.5" x2="692.17" y2="797.95" stroke="#333333" stroke-width="3.9"/><line x1="692.17" y1="906.25" x2="692.17" y2="906.25" stroke="#333333" stroke-width="3.9"/><line x1="668.97" y1="635.5" x2="715.37" y2="635.5" stroke="#333333" stroke-width="3.9"/><rect x="648.87" y="797.95" width="86.6" height="108.3" fill="#e64b37" stroke="#333333" stroke-width="3.9"/><line x1="648.87" y1="852.1" x2="735.47" y2="852.1" stroke="#333333" stroke-width="3.9"/><line x1="686.77" y1="821.25" x2="697.57" y2="832.05" stroke="#000" stroke-width="4.4"/><line x1="686.77" y1="832.05" x2="697.57" y2="821.25" stroke="#000" stroke-width="4.4"/><line x1="835.3" y1="960.2" x2="835.3" y2="954.6" stroke="#000" stroke-width="2.4"/><text x="834.5" y="987.3" font-size="25" text-anchor="middle">10</text><line x1="835.3" y1="581.35" x2="835.3" y2="689.65" stroke="#333333" stroke-width="3.9"/><line x1="835.3" y1="797.95" x2="835.3" y2="906.25" stroke="#333333" stroke-width="3.9"/><line x1="812.1" y1="581.35" x2="858.5" y2="581.35" stroke="#333333" stroke-width="3.9"/><line x1="812.1" y1="906.25" x2="858.5" y2="906.25" stroke="#333333" stroke-width="3.9"/><rect x="792" y="689.65" width="86.6" height="108.3" fill="#6cc8d9" stroke="#333333" stroke-width="3.9"/><line x1="792" y1="743.8" x2="878.6" y2="743.8" stroke="#333333" stroke-width="3.9"/><line x1="829.9" y1="747.06" x2="840.7" y2="757.86" stroke="#000" stroke-width="4.4"/><line x1="829.9" y1="757.86" x2="840.7" y2="747.06" stroke="#000" stroke-width="4.4"/><line x1="978.43" y1="960.2" x2="978.43" y2="954.6" stroke="#000" stroke-width="2.4"/><text x="977.63" y="987.3" font-size="25" text-anchor="middle">15</text><line x1="978.43" y1="581.35" x2="978.43" y2="635.5" stroke="#333333" stroke-width="3.9"/><line x1="978.43" y1="743.8" x2="978.43" y2="906.25" stroke="#333333" stroke-width="3.9"/><line x1="955.23" y1="581.35" x2="1001.63" y2="581.35" stroke="#333333" stroke-width="3.9"/><line x1="955.23" y1="906.25" x2="1001.63" y2="906.25" stroke="#333333" stroke-width="3.9"/><rect x="935.13" y="635.5" width="86.6" height="108.3" fill="#4db392" stroke="#333333" stroke-width="3.9"/><line x1="935.13" y1="689.65" x2="1021.73" y2="689.65" stroke="#333333" stroke-width="3.9"/><line x1="973.03" y1="682.63" x2="983.83" y2="693.43" stroke="#000" stroke-width="4.4"/><line x1="973.03" y1="693.43" x2="983.83" y2="682.63" stroke="#000" stroke-width="4.4"/><text x="835.3" y="1017.9" font-size="28.8" text-anchor="middle">Rotation angle (°)</text><text x="580" y="750" font-size="28.8" text-anchor="middle" transform="rotate(-90 580 750)">PI value (max: 7)</text><rect x="620.6" y="537.8" width="429.4" height="422.4" fill="none" stroke="#000" stroke-width="2.8"/><text x="1088" y="552.5" font-size="33" text-anchor="start" font-weight="bold">f</text><text x="1148.1" y="969.2" font-size="25" text-anchor="end">0</text><line x1="1156.6" y1="906.25" x2="1162.6" y2="906.25" stroke="#000" stroke-width="2.4"/><text x="1148.1" y="915.05" font-size="25" text-anchor="end">1</text><line x1="1156.6" y1="852.1" x2="1162.6" y2="852.1" stroke="#000" stroke-width="2.4"/><text x="1148.1" y="860.9" font-size="25" text-anchor="end">2</text><line x1="1156.6" y1="797.95" x2="1162.6" y2="797.95" stroke="#000" stroke-width="2.4"/><text x="1148.1" y="806.75" font-size="25" text-anchor="end">3</text><line x1="1156.6" y1="743.8" x2="1162.6" y2="743.8" stroke="#000" stroke-width="2.4"/><text x="1148.1" y="752.6" font-size="25" text-anchor="end">4</text><line x1="1156.6" y1="689.65" x2="1162.6" y2="689.65" stroke="#000" stroke-width="2.4"/><text x="1148.1" y="698.45" font-size="25" text-anchor="end">5</text><line x1="1156.6" y1="635.5" x2="1162.6" y2="635.5" stroke="#000" stroke-width="2.4"/><text x="1148.1" y="644.3" font-size="25" text-anchor="end">6</text><line x1="1156.6" y1="581.35" x2="1162.6" y2="581.35" stroke="#000" stroke-width="2.4"/><text x="1148.1" y="590.15" font-size="25" text-anchor="end">7</text><line x1="1228.25" y1="960.2" x2="1228.25" y2="954.6" stroke="#000" stroke-width="2.4"/><text x="1227.45" y="987.3" font-size="25" text-anchor="middle">5</text><line x1="1228.25" y1="689.65" x2="1228.25" y2="797.95" stroke="#333333" stroke-width="3.9"/><line x1="1228.25" y1="906.25" x2="1228.25" y2="906.25" stroke="#333333" stroke-width="3.9"/><line x1="1205.05" y1="689.65" x2="1251.45" y2="689.65" stroke="#333333" stroke-width="3.9"/><rect x="1184.95" y="797.95" width="86.6" height="108.3" fill="#e64b37" stroke="#333333" stroke-width="3.9"/><line x1="1184.95" y1="852.1" x2="1271.55" y2="852.1" stroke="#333333" stroke-width="3.9"/><polygon points="1228.25,571.35 1234.25,581.35 1228.25,591.35 1222.25,581.35" fill="#333333"/><line x1="1222.85" y1="826.12" x2="1233.65" y2="836.92" stroke="#000" stroke-width="4.4"/><line x1="1222.85" y1="836.92" x2="1233.65" y2="826.12" stroke="#000" stroke-width="4.4"/><line x1="1371.55" y1="960.2" x2="1371.55" y2="954.6" stroke="#000" stroke-width="2.4"/><text x="1370.75" y="987.3" font-size="25" text-anchor="middle">10</text><line x1="1371.55" y1="581.35" x2="1371.55" y2="689.65" stroke="#333333" stroke-width="3.9"/><line x1="1371.55" y1="797.95" x2="1371.55" y2="906.25" stroke="#333333" stroke-width="3.9"/><line x1="1348.35" y1="581.35" x2="1394.75" y2="581.35" stroke="#333333" stroke-width="3.9"/><line x1="1348.35" y1="906.25" x2="1394.75" y2="906.25" stroke="#333333" stroke-width="3.9"/><rect x="1328.25" y="689.65" width="86.6" height="108.3" fill="#6cc8d9" stroke="#333333" stroke-width="3.9"/><line x1="1328.25" y1="770.88" x2="1414.85" y2="770.88" stroke="#333333" stroke-width="3.9"/><line x1="1366.15" y1="742.73" x2="1376.95" y2="753.53" stroke="#000" stroke-width="4.4"/><line x1="1366.15" y1="753.53" x2="1376.95" y2="742.73" stroke="#000" stroke-width="4.4"/><line x1="1514.85" y1="960.2" x2="1514.85" y2="954.6" stroke="#000" stroke-width="2.4"/><text x="1514.05" y="987.3" font-size="25" text-anchor="middle">15</text><line x1="1514.85" y1="581.35" x2="1514.85" y2="635.5" stroke="#333333" stroke-width="3.9"/><line x1="1514.85" y1="743.8" x2="1514.85" y2="797.95" stroke="#333333" stroke-width="3.9"/><line x1="1491.65" y1="581.35" x2="1538.05" y2="581.35" stroke="#333333" stroke-width="3.9"/><line x1="1491.65" y1="797.95" x2="1538.05" y2="797.95" stroke="#333333" stroke-width="3.9"/><rect x="1471.55" y="635.5" width="86.6" height="108.3" fill="#4db392" stroke="#333333" stroke-width="3.9"/><line x1="1471.55" y1="662.58" x2="1558.15" y2="662.58" stroke="#333333" stroke-width="3.9"/><line x1="1509.45" y1="665.84" x2="1520.25" y2="676.64" stroke="#000" stroke-width="4.4"/><line x1="1509.45" y1="676.64" x2="1520.25" y2="665.84" stroke="#000" stroke-width="4.4"/><text x="1371.55" y="1017.9" font-size="28.8" text-anchor="middle">Rotation angle (°)</text><text x="1116" y="750" font-size="28.8" text-anchor="middle" transform="rotate(-90 1116 750)">PI value (max: 7)</text><rect x="1156.6" y="537.8" width="429.9" height="422.4" fill="none" stroke="#000" stroke-width="2.8"/><text x="1622" y="552.5" font-size="33" text-anchor="start" font-weight="bold">g</text><text x="1685.1" y="969.2" font-size="25" text-anchor="end">0</text><line x1="1693.6" y1="906.25" x2="1699.6" y2="906.25" stroke="#000" stroke-width="2.4"/><text x="1685.1" y="915.05" font-size="25" text-anchor="end">1</text><line x1="1693.6" y1="852.1" x2="1699.6" y2="852.1" stroke="#000" stroke-width="2.4"/><text x="1685.1" y="860.9" font-size="25" text-anchor="end">2</text><line x1="1693.6" y1="797.95" x2="1699.6" y2="797.95" stroke="#000" stroke-width="2.4"/><text x="1685.1" y="806.75" font-size="25" text-anchor="end">3</text><line x1="1693.6" y1="743.8" x2="1699.6" y2="743.8" stroke="#000" stroke-width="2.4"/><text x="1685.1" y="752.6" font-size="25" text-anchor="end">4</text><line x1="1693.6" y1="689.65" x2="1699.6" y2="689.65" stroke="#000" stroke-width="2.4"/><text x="1685.1" y="698.45" font-size="25" text-anchor="end">5</text><line x1="1693.6" y1="635.5" x2="1699.6" y2="635.5" stroke="#000" stroke-width="2.4"/><text x="1685.1" y="644.3" font-size="25" text-anchor="end">6</text><line x1="1693.6" y1="581.35" x2="1699.6" y2="581.35" stroke="#000" stroke-width="2.4"/><text x="1685.1" y="590.15" font-size="25" text-anchor="end">7</text><line x1="1765.27" y1="960.2" x2="1765.27" y2="954.6" stroke="#000" stroke-width="2.4"/><text x="1764.47" y="987.3" font-size="25" text-anchor="middle">0.33–5</text><line x1="1765.27" y1="581.35" x2="1765.27" y2="743.8" stroke="#333333" stroke-width="3.9"/><line x1="1765.27" y1="852.1" x2="1765.27" y2="906.25" stroke="#333333" stroke-width="3.9"/><line x1="1742.07" y1="581.35" x2="1788.47" y2="581.35" stroke="#333333" stroke-width="3.9"/><line x1="1742.07" y1="906.25" x2="1788.47" y2="906.25" stroke="#333333" stroke-width="3.9"/><rect x="1721.97" y="743.8" width="86.6" height="108.3" fill="#e64b37" stroke="#333333" stroke-width="3.9"/><line x1="1721.97" y1="797.95" x2="1808.57" y2="797.95" stroke="#333333" stroke-width="3.9"/><line x1="1759.87" y1="799.59" x2="1770.67" y2="810.39" stroke="#000" stroke-width="4.4"/><line x1="1759.87" y1="810.39" x2="1770.67" y2="799.59" stroke="#000" stroke-width="4.4"/><line x1="1908.6" y1="960.2" x2="1908.6" y2="954.6" stroke="#000" stroke-width="2.4"/><text x="1907.8" y="987.3" font-size="25" text-anchor="middle">0.66–10</text><line x1="1908.6" y1="581.35" x2="1908.6" y2="689.65" stroke="#333333" stroke-width="3.9"/><line x1="1908.6" y1="784.41" x2="1908.6" y2="852.1" stroke="#333333" stroke-width="3.9"/><line x1="1885.4" y1="581.35" x2="1931.8" y2="581.35" stroke="#333333" stroke-width="3.9"/><line x1="1885.4" y1="852.1" x2="1931.8" y2="852.1" stroke="#333333" stroke-width="3.9"/><rect x="1865.3" y="689.65" width="86.6" height="94.76" fill="#6cc8d9" stroke="#333333" stroke-width="3.9"/><line x1="1865.3" y1="743.8" x2="1951.9" y2="743.8" stroke="#333333" stroke-width="3.9"/><line x1="1903.2" y1="722.16" x2="1914" y2="732.96" stroke="#000" stroke-width="4.4"/><line x1="1903.2" y1="732.96" x2="1914" y2="722.16" stroke="#000" stroke-width="4.4"/><line x1="2051.93" y1="960.2" x2="2051.93" y2="954.6" stroke="#000" stroke-width="2.4"/><text x="2051.13" y="987.3" font-size="25" text-anchor="middle">1.00–15</text><line x1="2051.93" y1="581.35" x2="2051.93" y2="635.5" stroke="#333333" stroke-width="3.9"/><line x1="2051.93" y1="689.65" x2="2051.93" y2="743.8" stroke="#333333" stroke-width="3.9"/><line x1="2028.73" y1="581.35" x2="2075.13" y2="581.35" stroke="#333333" stroke-width="3.9"/><line x1="2028.73" y1="743.8" x2="2075.13" y2="743.8" stroke="#333333" stroke-width="3.9"/><rect x="2008.63" y="635.5" width="86.6" height="54.15" fill="#4db392" stroke="#333333" stroke-width="3.9"/><line x1="2008.63" y1="689.65" x2="2095.23" y2="689.65" stroke="#333333" stroke-width="3.9"/><polygon points="2051.93,787.95 2057.93,797.95 2051.93,807.95 2045.93,797.95" fill="#333333"/><polygon points="2051.93,842.1 2057.93,852.1 2051.93,862.1 2045.93,852.1" fill="#333333"/><line x1="2046.53" y1="668" x2="2057.33" y2="678.8" stroke="#000" stroke-width="4.4"/><line x1="2046.53" y1="678.8" x2="2057.33" y2="668" stroke="#000" stroke-width="4.4"/><text x="1908.6" y="1017.9" font-size="28.8" text-anchor="middle">Rotation angle (°)</text><text x="1653" y="750" font-size="28.8" text-anchor="middle" transform="rotate(-90 1653 750)">PI value (max: 7)</text><rect x="1693.6" y="537.8" width="430" height="422.4" fill="none" stroke="#000" stroke-width="2.8"/><text x="647" y="1079" font-size="33" text-anchor="start" font-weight="bold">i</text><clipPath id="cm638_1102"><rect x="638.5" y="1102" width="128.6" height="123"/></clipPath><g clip-path="url(#cm638_1102)"><use href="#armfore" transform="translate(638.5 1102) scale(0.62) translate(-3.6 -1307.2)"/></g><circle cx="707.07" cy="1160.02" r="7.3" fill="#f2474d"/><circle cx="725.55" cy="1148.61" r="7.3" fill="#aeb0b3"/><circle cx="752.27" cy="1131.13" r="7.3" fill="#aeb0b3"/><circle cx="737.21" cy="1166.84" r="7.3" fill="#aeb0b3"/><circle cx="718.42" cy="1179.18" r="7.3" fill="#aeb0b3"/><text x="694.99" y="1150.49" font-size="27" text-anchor="middle" font-weight="bold" stroke="#000" stroke-width="0.6" transform="rotate(-31 694.99 1140.89)">A</text><clipPath id="cm638_1233"><rect x="638.5" y="1233.5" width="128.6" height="123"/></clipPath><g clip-path="url(#cm638_1233)"><use href="#armfore" transform="translate(638.5 1233.5) scale(0.62) translate(-3.6 -1307.2)"/></g><circle cx="707.07" cy="1291.52" r="7.3" fill="#aeb0b3"/><circle cx="725.55" cy="1280.11" r="7.3" fill="#aeb0b3"/><circle cx="752.27" cy="1262.63" r="7.3" fill="#aeb0b3"/><circle cx="737.21" cy="1298.34" r="7.3" fill="#aeb0b3"/><circle cx="718.42" cy="1310.68" r="7.3" fill="#57b747"/><text x="729.27" y="1339.85" font-size="27" text-anchor="middle" font-weight="bold" stroke="#000" stroke-width="0.6" transform="rotate(-31 729.27 1330.25)">B</text><clipPath id="cm638_1365"><rect x="638.5" y="1365" width="128.6" height="123"/></clipPath><g clip-path="url(#cm638_1365)"><use href="#armfore" transform="translate(638.5 1365) scale(0.62) translate(-3.6 -1307.2)"/></g><circle cx="707.07" cy="1423.02" r="7.3" fill="#aeb0b3"/><circle cx="725.55" cy="1411.61" r="7.3" fill="#57b747"/><circle cx="752.27" cy="1394.13" r="7.3" fill="#aeb0b3"/><circle cx="737.21" cy="1429.84" r="7.3" fill="#aeb0b3"/><circle cx="718.42" cy="1442.18" r="7.3" fill="#aeb0b3"/><text x="715.07" y="1402.62" font-size="27" text-anchor="middle" font-weight="bold" stroke="#000" stroke-width="0.6" transform="rotate(-31 715.07 1393.02)">C</text><clipPath id="cm638_1497"><rect x="638.5" y="1497.3" width="128.6" height="123"/></clipPath><g clip-path="url(#cm638_1497)"><use href="#armfore" transform="translate(638.5 1497.3) scale(0.62) translate(-3.6 -1307.2)"/></g><circle cx="707.07" cy="1555.32" r="7.3" fill="#aeb0b3"/><circle cx="725.55" cy="1543.91" r="7.3" fill="#aeb0b3"/><circle cx="752.27" cy="1526.43" r="7.3" fill="#aeb0b3"/><circle cx="737.21" cy="1562.14" r="7.3" fill="#f2474d"/><circle cx="718.42" cy="1574.48" r="7.3" fill="#aeb0b3"/><text x="748.58" y="1590.38" font-size="27" text-anchor="middle" font-weight="bold" stroke="#000" stroke-width="0.6" transform="rotate(-31 748.58 1580.78)">D</text><text x="1355.5" y="1076.8" font-size="33" text-anchor="start" font-weight="bold">j</text><clipPath id="cm1348_1102"><rect x="1348.7" y="1102" width="128.6" height="123"/></clipPath><g clip-path="url(#cm1348_1102)"><use href="#armfore" transform="translate(1348.7 1102) scale(0.62) translate(-3.6 -1307.2)"/></g><circle cx="1417.27" cy="1160.02" r="7.3" fill="#f2474d"/><circle cx="1435.75" cy="1148.61" r="7.3" fill="#aeb0b3"/><circle cx="1462.47" cy="1131.13" r="7.3" fill="#f2474d"/><circle cx="1447.41" cy="1166.84" r="7.3" fill="#f2474d"/><circle cx="1428.62" cy="1179.18" r="7.3" fill="#aeb0b3"/><text x="1410.19" y="1146.79" font-size="27" text-anchor="middle" font-weight="bold" stroke="#000" stroke-width="0.6" transform="rotate(-31 1410.19 1137.19)">A</text><text x="1453.63" y="1120.6" font-size="27" text-anchor="middle" font-weight="bold" stroke="#000" stroke-width="0.6" transform="rotate(-31 1453.63 1111)">E</text><text x="1461.78" y="1196.08" font-size="27" text-anchor="middle" font-weight="bold" stroke="#000" stroke-width="0.6" transform="rotate(-31 1461.78 1186.48)">D</text><text x="1354.5" y="1124.5" font-size="28" text-anchor="start">P1</text><clipPath id="cm1348_1233"><rect x="1348.7" y="1233.5" width="128.6" height="123"/></clipPath><g clip-path="url(#cm1348_1233)"><use href="#armfore" transform="translate(1348.7 1233.5) scale(0.62) translate(-3.6 -1307.2)"/></g><circle cx="1417.27" cy="1291.52" r="7.3" fill="#f2474d"/><circle cx="1435.75" cy="1280.11" r="7.3" fill="#aeb0b3"/><circle cx="1462.47" cy="1262.63" r="7.3" fill="#f2474d"/><circle cx="1447.41" cy="1298.34" r="7.3" fill="#aeb0b3"/><circle cx="1428.62" cy="1310.68" r="7.3" fill="#aeb0b3"/><text x="1410.19" y="1278.29" font-size="27" text-anchor="middle" font-weight="bold" stroke="#000" stroke-width="0.6" transform="rotate(-31 1410.19 1268.69)">A</text><text x="1453.63" y="1252.1" font-size="27" text-anchor="middle" font-weight="bold" stroke="#000" stroke-width="0.6" transform="rotate(-31 1453.63 1242.5)">E</text><text x="1354.5" y="1256" font-size="28" text-anchor="start">P2</text><clipPath id="cm1348_1365"><rect x="1348.7" y="1365" width="128.6" height="123"/></clipPath><g clip-path="url(#cm1348_1365)"><use href="#armfore" transform="translate(1348.7 1365) scale(0.62) translate(-3.6 -1307.2)"/></g><circle cx="1417.27" cy="1423.02" r="7.3" fill="#f2474d"/><circle cx="1435.75" cy="1411.61" r="7.3" fill="#aeb0b3"/><circle cx="1462.47" cy="1394.13" r="7.3" fill="#aeb0b3"/><circle cx="1447.41" cy="1429.84" r="7.3" fill="#f2474d"/><circle cx="1428.62" cy="1442.18" r="7.3" fill="#aeb0b3"/><text x="1410.19" y="1409.79" font-size="27" text-anchor="middle" font-weight="bold" stroke="#000" stroke-width="0.6" transform="rotate(-31 1410.19 1400.19)">A</text><text x="1461.78" y="1459.08" font-size="27" text-anchor="middle" font-weight="bold" stroke="#000" stroke-width="0.6" transform="rotate(-31 1461.78 1449.48)">D</text><text x="1354.5" y="1387.5" font-size="28" text-anchor="start">P3</text><clipPath id="cm1348_1497"><rect x="1348.7" y="1497.3" width="128.6" height="123"/></clipPath><g clip-path="url(#cm1348_1497)"><use href="#armfore" transform="translate(1348.7 1497.3) scale(0.62) translate(-3.6 -1307.2)"/></g><circle cx="1417.27" cy="1555.32" r="7.3" fill="#aeb0b3"/><circle cx="1435.75" cy="1543.91" r="7.3" fill="#aeb0b3"/><circle cx="1462.47" cy="1526.43" r="7.3" fill="#f2474d"/><circle cx="1447.41" cy="1562.14" r="7.3" fill="#f2474d"/><circle cx="1428.62" cy="1574.48" r="7.3" fill="#aeb0b3"/><text x="1453.63" y="1515.9" font-size="27" text-anchor="middle" font-weight="bold" stroke="#000" stroke-width="0.6" transform="rotate(-31 1453.63 1506.3)">E</text><text x="1461.78" y="1591.38" font-size="27" text-anchor="middle" font-weight="bold" stroke="#000" stroke-width="0.6" transform="rotate(-31 1461.78 1581.78)">D</text><text x="1354.5" y="1519.8" font-size="28" text-anchor="start">P4</text><line x1="893.4" y1="1121.6" x2="899.4" y2="1121.6" stroke="#000" stroke-width="2.4"/><text x="886.5" y="1130.4" font-size="25" text-anchor="end">1.00</text><line x1="893.4" y1="1217" x2="899.4" y2="1217" stroke="#000" stroke-width="2.4"/><text x="886.5" y="1225.8" font-size="25" text-anchor="end">0.95</text><line x1="893.4" y1="1312.4" x2="899.4" y2="1312.4" stroke="#000" stroke-width="2.4"/><text x="886.5" y="1321.2" font-size="25" text-anchor="end">0.90</text><line x1="893.4" y1="1407.8" x2="899.4" y2="1407.8" stroke="#000" stroke-width="2.4"/><text x="886.5" y="1416.6" font-size="25" text-anchor="end">0.85</text><line x1="893.4" y1="1503.2" x2="899.4" y2="1503.2" stroke="#000" stroke-width="2.4"/><text x="886.5" y="1512" font-size="25" text-anchor="end">0.80</text><line x1="1204.2" y1="1217" x2="1204.2" y2="1312.4" stroke="#000" stroke-width="3"/><line x1="1164.4" y1="1312.4" x2="1237" y2="1312.4" stroke="#000" stroke-width="3"/><rect x="936.4" y="1121.6" width="121.6" height="95.4" fill="#f0494e" stroke="#000" stroke-width="3.8"/><rect x="1143.2" y="1121.6" width="122.2" height="95.4" fill="#5bb941" stroke="#000" stroke-width="3.8"/><circle cx="949.14" cy="1121.6" r="6.6" fill="#f0494e" stroke="#000" stroke-width="3.6"/><circle cx="955.72" cy="1121.6" r="6.6" fill="#f0494e" stroke="#000" stroke-width="3.6"/><circle cx="968.1" cy="1121.6" r="6.6" fill="#f0494e" stroke="#000" stroke-width="3.6"/><circle cx="974.95" cy="1121.6" r="6.6" fill="#f0494e" stroke="#000" stroke-width="3.6"/><circle cx="988.65" cy="1121.6" r="6.6" fill="#f0494e" stroke="#000" stroke-width="3.6"/><circle cx="994.45" cy="1121.6" r="6.6" fill="#f0494e" stroke="#000" stroke-width="3.6"/><circle cx="999.72" cy="1121.6" r="6.6" fill="#f0494e" stroke="#000" stroke-width="3.6"/><circle cx="1005.25" cy="1121.6" r="6.6" fill="#f0494e" stroke="#000" stroke-width="3.6"/><circle cx="1024.21" cy="1121.6" r="6.6" fill="#f0494e" stroke="#000" stroke-width="3.6"/><circle cx="1037.39" cy="1121.6" r="6.6" fill="#f0494e" stroke="#000" stroke-width="3.6"/><circle cx="962.83" cy="1217" r="6.6" fill="#f0494e" stroke="#000" stroke-width="3.6"/><circle cx="1011.83" cy="1217" r="6.6" fill="#f0494e" stroke="#000" stroke-width="3.6"/><circle cx="1018.42" cy="1217" r="6.6" fill="#f0494e" stroke="#000" stroke-width="3.6"/><circle cx="1030.8" cy="1217" r="6.6" fill="#f0494e" stroke="#000" stroke-width="3.6"/><circle cx="981.3" cy="1503.2" r="7" fill="#f0494e" stroke="#000" stroke-width="4.4"/><circle cx="1169.1" cy="1121.6" r="6.6" fill="#5bb941" stroke="#000" stroke-width="3.6"/><circle cx="1182.28" cy="1121.6" r="6.6" fill="#5bb941" stroke="#000" stroke-width="3.6"/><circle cx="1188.86" cy="1121.6" r="6.6" fill="#5bb941" stroke="#000" stroke-width="3.6"/><circle cx="1195.45" cy="1121.6" r="6.6" fill="#5bb941" stroke="#000" stroke-width="3.6"/><circle cx="1202.03" cy="1121.6" r="6.6" fill="#5bb941" stroke="#000" stroke-width="3.6"/><circle cx="1208.62" cy="1121.6" r="6.6" fill="#5bb941" stroke="#000" stroke-width="3.6"/><circle cx="1215.21" cy="1121.6" r="6.6" fill="#5bb941" stroke="#000" stroke-width="3.6"/><circle cx="1220.47" cy="1121.6" r="6.6" fill="#5bb941" stroke="#000" stroke-width="3.6"/><circle cx="1238.91" cy="1121.6" r="6.6" fill="#5bb941" stroke="#000" stroke-width="3.6"/><circle cx="1244.97" cy="1121.6" r="6.6" fill="#5bb941" stroke="#000" stroke-width="3.6"/><circle cx="1157.78" cy="1217" r="6.6" fill="#5bb941" stroke="#000" stroke-width="3.6"/><circle cx="1176.22" cy="1217" r="6.6" fill="#5bb941" stroke="#000" stroke-width="3.6"/><circle cx="1232.86" cy="1217" r="6.6" fill="#5bb941" stroke="#000" stroke-width="3.6"/><circle cx="1164.36" cy="1312.4" r="6.6" fill="#5bb941" stroke="#000" stroke-width="3.6"/><circle cx="1226.53" cy="1312.4" r="6.6" fill="#5bb941" stroke="#000" stroke-width="3.6"/><line x1="992.1" y1="1168.03" x2="1001.5" y2="1177.43" stroke="#000" stroke-width="3.6"/><line x1="992.1" y1="1177.43" x2="1001.5" y2="1168.03" stroke="#000" stroke-width="3.6"/><line x1="1199.5" y1="1161.36" x2="1208.9" y2="1170.76" stroke="#000" stroke-width="3.6"/><line x1="1199.5" y1="1170.76" x2="1208.9" y2="1161.36" stroke="#000" stroke-width="3.6"/><rect x="893.4" y="1104.3" width="414.8" height="416.9" fill="none" stroke="#000" stroke-width="2.8"/><text x="996.8" y="1556" font-size="28.8" text-anchor="middle">Torsion</text><text x="996.8" y="1591" font-size="28.8" text-anchor="middle">(A, D)</text><text x="1204.2" y="1556" font-size="28.8" text-anchor="middle">Indentation</text><text x="1204.2" y="1591" font-size="28.8" text-anchor="middle">(B, C)</text><text x="802.5" y="1313" font-size="28.8" text-anchor="middle" transform="rotate(-90 802.5 1313)">Recognition accuracy</text><rect x="1587.3" y="1104" width="106.68" height="106.53" fill="#62aea5"/><rect x="1693.38" y="1104" width="106.68" height="106.53" fill="#cee5e5"/><rect x="1799.45" y="1104" width="106.68" height="106.53" fill="#e4eff1"/><rect x="1905.53" y="1104" width="106.68" height="106.53" fill="#dfecee"/><rect x="1587.3" y="1209.92" width="106.68" height="106.53" fill="#e4eff1"/><rect x="1693.38" y="1209.92" width="106.68" height="106.53" fill="#54a196"/><rect x="1799.45" y="1209.92" width="106.68" height="106.53" fill="#e3eef0"/><rect x="1905.53" y="1209.92" width="106.68" height="106.53" fill="#dfecee"/><rect x="1587.3" y="1315.85" width="106.68" height="106.53" fill="#ecf2f5"/><rect x="1693.38" y="1315.85" width="106.68" height="106.53" fill="#dfecee"/><rect x="1799.45" y="1315.85" width="106.68" height="106.53" fill="#4b998e"/><rect x="1905.53" y="1315.85" width="106.68" height="106.53" fill="#eaf1f4"/><rect x="1587.3" y="1421.78" width="106.68" height="106.53" fill="#dbeaec"/><rect x="1693.38" y="1421.78" width="106.68" height="106.53" fill="#e6f0f2"/><rect x="1799.45" y="1421.78" width="106.68" height="106.53" fill="#e6f0f2"/><rect x="1905.53" y="1421.78" width="106.68" height="106.53" fill="#54a196"/><text x="1640.64" y="1157.46" font-size="25.5" text-anchor="middle" fill="#fff" font-family='"DejaVu Sans", "Liberation Sans", sans-serif'>0.70</text><text x="1746.71" y="1157.46" font-size="25.5" text-anchor="middle" font-family='"DejaVu Sans", "Liberation Sans", sans-serif'>0.17</text><text x="1852.79" y="1157.46" font-size="25.5" text-anchor="middle" font-family='"DejaVu Sans", "Liberation Sans", sans-serif'>0.05</text><text x="1958.86" y="1157.46" font-size="25.5" text-anchor="middle" font-family='"DejaVu Sans", "Liberation Sans", sans-serif'>0.08</text><text x="1640.64" y="1263.39" font-size="25.5" text-anchor="middle" font-family='"DejaVu Sans", "Liberation Sans", sans-serif'>0.05</text><text x="1746.71" y="1263.39" font-size="25.5" text-anchor="middle" fill="#fff" font-family='"DejaVu Sans", "Liberation Sans", sans-serif'>0.82</text><text x="1852.79" y="1263.39" font-size="25.5" text-anchor="middle" font-family='"DejaVu Sans", "Liberation Sans", sans-serif'>0.06</text><text x="1958.86" y="1263.39" font-size="25.5" text-anchor="middle" font-family='"DejaVu Sans", "Liberation Sans", sans-serif'>0.08</text><text x="1640.64" y="1369.31" font-size="25.5" text-anchor="middle" font-family='"DejaVu Sans", "Liberation Sans", sans-serif'>0.01</text><text x="1746.71" y="1369.31" font-size="25.5" text-anchor="middle" font-family='"DejaVu Sans", "Liberation Sans", sans-serif'>0.08</text><text x="1852.79" y="1369.31" font-size="25.5" text-anchor="middle" fill="#fff" font-family='"DejaVu Sans", "Liberation Sans", sans-serif'>0.89</text><text x="1958.86" y="1369.31" font-size="25.5" text-anchor="middle" font-family='"DejaVu Sans", "Liberation Sans", sans-serif'>0.02</text><text x="1640.64" y="1475.24" font-size="25.5" text-anchor="middle" font-family='"DejaVu Sans", "Liberation Sans", sans-serif'>0.10</text><text x="1746.71" y="1475.24" font-size="25.5" text-anchor="middle" font-family='"DejaVu Sans", "Liberation Sans", sans-serif'>0.04</text><text x="1852.79" y="1475.24" font-size="25.5" text-anchor="middle" font-family='"DejaVu Sans", "Liberation Sans", sans-serif'>0.04</text><text x="1958.86" y="1475.24" font-size="25.5" text-anchor="middle" fill="#fff" font-family='"DejaVu Sans", "Liberation Sans", sans-serif'>0.82</text><rect x="1587.6" y="1104.3" width="424.3" height="423.7" fill="none" stroke="#000" stroke-width="3"/><text x="1640.64" y="1560" font-size="24" text-anchor="middle">P1</text><text x="1575.5" y="1158.86" font-size="24" text-anchor="end">P1</text><text x="1746.71" y="1560" font-size="24" text-anchor="middle">P2</text><text x="1575.5" y="1264.79" font-size="24" text-anchor="end">P2</text><text x="1852.79" y="1560" font-size="24" text-anchor="middle">P3</text><text x="1575.5" y="1370.71" font-size="24" text-anchor="end">P3</text><text x="1958.86" y="1560" font-size="24" text-anchor="middle">P4</text><text x="1575.5" y="1476.64" font-size="24" text-anchor="end">P4</text><text x="1799.6" y="1605.6" font-size="28.6" text-anchor="middle">Perceived</text><text x="1525.5" y="1316.5" font-size="28.6" text-anchor="middle" transform="rotate(-90 1525.5 1316.5)">Actual</text><rect x="2040.8" y="1104.3" width="23.2" height="423.7" fill="url(#cbar)" stroke="#000" stroke-width="2.6"/><line x1="2064" y1="1528" x2="2069" y2="1528" stroke="#000" stroke-width="2.4"/><text x="2073.5" y="1537.4" font-size="25.5" text-anchor="start" font-family='"DejaVu Sans", "Liberation Sans", sans-serif'>0.0</text><line x1="2064" y1="1443.26" x2="2069" y2="1443.26" stroke="#000" stroke-width="2.4"/><text x="2073.5" y="1452.66" font-size="25.5" text-anchor="start" font-family='"DejaVu Sans", "Liberation Sans", sans-serif'>0.2</text><line x1="2064" y1="1358.52" x2="2069" y2="1358.52" stroke="#000" stroke-width="2.4"/><text x="2073.5" y="1367.92" font-size="25.5" text-anchor="start" font-family='"DejaVu Sans", "Liberation Sans", sans-serif'>0.4</text><line x1="2064" y1="1273.78" x2="2069" y2="1273.78" stroke="#000" stroke-width="2.4"/><text x="2073.5" y="1283.18" font-size="25.5" text-anchor="start" font-family='"DejaVu Sans", "Liberation Sans", sans-serif'>0.6</text><line x1="2064" y1="1189.04" x2="2069" y2="1189.04" stroke="#000" stroke-width="2.4"/><text x="2073.5" y="1198.44" font-size="25.5" text-anchor="start" font-family='"DejaVu Sans", "Liberation Sans", sans-serif'>0.8</text><line x1="2064" y1="1104.3" x2="2069" y2="1104.3" stroke="#000" stroke-width="2.4"/><text x="2073.5" y="1113.7" font-size="25.5" text-anchor="start" font-family='"DejaVu Sans", "Liberation Sans", sans-serif'>1.0</text></svg></body></html>
